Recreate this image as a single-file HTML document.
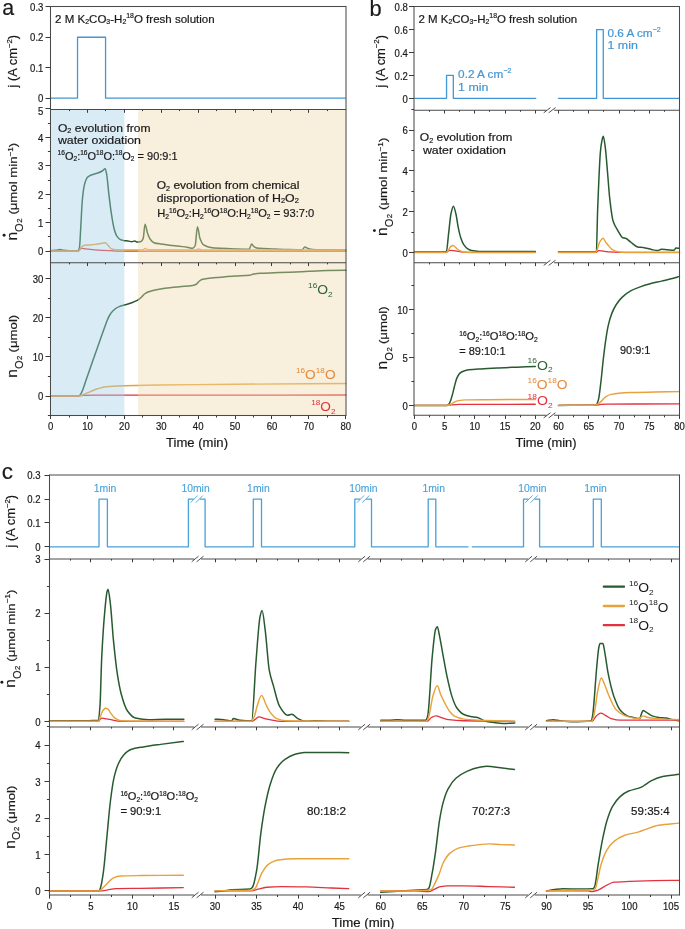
<!DOCTYPE html>
<html><head><meta charset="utf-8"><title>Figure</title>
<style>html,body{margin:0;padding:0;background:#fff;width:685px;height:929px;overflow:hidden}svg{display:block;will-change:transform}</style>
</head><body>
<svg width="685" height="929" viewBox="0 0 685 929" font-family='"Liberation Sans", sans-serif'>
<rect width="100%" height="100%" fill="#ffffff"/>
<path d="M50.6,250.63 C52.44,250.54 54.29,250.51 56.13,250.35 C57.36,250.24 58.59,249.49 59.82,249.49 C61.05,249.49 62.28,250.24 63.51,250.35 C65.36,250.51 67.2,250.63 69.05,250.63 C72,250.63 74.95,250.63 77.9,250.63 C78.39,250.63 78.88,249.73 79.37,248.36 C79.87,246.98 80.36,233.63 80.85,225.6 C81.34,217.57 81.83,205.09 82.33,200.01 C83.06,192.38 83.8,187.08 84.54,184.37 C85.52,180.75 86.51,178.24 87.49,177.26 C88.72,176.02 89.95,175.49 91.18,174.98 C92.41,174.48 93.64,174.22 94.87,173.84 C96.1,173.46 97.33,173.16 98.56,172.71 C99.79,172.25 101.02,171.72 102.25,171 C103.23,170.43 104.21,168.72 105.2,168.72 C105.69,168.72 106.18,171.83 106.67,174.41 C107.41,178.29 108.15,188.18 108.89,194.32 C109.75,201.48 110.61,208.7 111.47,214.23 C112.33,219.76 113.19,225.31 114.05,228.45 C115.03,232.04 116.02,235.03 117,236.41 C118.23,238.14 119.46,239.37 120.69,239.82 C121.92,240.28 123.15,240.53 124.38,240.68 C125.61,240.82 126.84,240.82 128.07,240.96 C129.3,241.1 130.53,241.81 131.76,241.81 C132.74,241.81 133.73,240.96 134.71,240.96 C135.57,240.96 136.43,242.1 137.29,242.1 C138.52,242.1 139.75,241.9 140.98,241.53 C141.72,241.31 142.46,240.2 143.19,238.4 C143.81,236.9 144.42,224.18 145.04,224.18 C145.9,224.18 146.76,231.21 147.62,233.57 C148.48,235.93 149.34,238.11 150.2,239.26 C151.43,240.9 152.66,242.24 153.89,242.67 C156.35,243.51 158.81,243.71 161.27,244.09 C164.96,244.67 168.65,245.06 172.34,245.51 C174.8,245.81 177.26,246.08 179.72,246.37 C182.17,246.65 184.63,246.85 187.09,247.22 C188.94,247.5 190.78,248.36 192.63,248.36 C193.49,248.36 194.35,247.22 195.21,245.51 C195.95,244.04 196.68,226.74 197.42,226.74 C198.28,226.74 199.14,236.15 200,238.4 C201.23,241.62 202.46,244.09 203.69,244.94 C205.54,246.23 207.38,246.89 209.23,247.22 C212.92,247.87 216.61,248.14 220.29,248.36 C225.21,248.64 230.13,248.79 235.05,248.92 C239.72,249.05 244.4,249.21 249.07,249.21 C249.93,249.21 250.79,244.09 251.65,244.09 C252.51,244.09 253.37,246.51 254.23,246.93 C255.83,247.73 257.43,248.22 259.03,248.36 C263.33,248.73 267.64,248.75 271.94,248.92 C276.86,249.13 281.78,249.37 286.7,249.49 C291.86,249.62 297.03,249.78 302.19,249.78 C303.05,249.78 303.91,246.93 304.77,246.93 C305.76,246.93 306.74,248.03 307.72,248.36 C309.32,248.88 310.92,249.43 312.52,249.49 C317.44,249.7 322.36,249.69 327.28,249.78 C333.42,249.88 339.57,249.97 345.72,250.06" fill="none" stroke="#285a30" stroke-width="1.5" stroke-linejoin="round" stroke-linecap="round"/>
<path d="M50.6,251.2 C59.95,251.2 69.29,251.2 78.64,251.2 C79.5,251.2 80.36,248.36 81.22,248.36 C82.69,248.36 84.17,248.76 85.65,248.92 C88.72,249.26 91.79,249.56 94.87,249.78 C99.79,250.13 104.71,250.4 109.62,250.63 C114.54,250.86 119.46,251.2 124.38,251.2 C198.16,251.2 271.94,251.2 345.72,251.2" fill="none" stroke="#e2323f" stroke-width="1.3" stroke-linejoin="round" stroke-linecap="round"/>
<path d="M50.6,250.92 C59.95,250.92 69.29,250.92 78.64,250.92 C79.37,250.92 80.11,248.53 80.85,247.79 C81.83,246.79 82.82,245.77 83.8,245.51 C85.03,245.19 86.26,245.07 87.49,244.94 C89.95,244.68 92.41,244.63 94.87,244.37 C97.33,244.12 99.79,243.66 102.25,243.24 C103.23,243.07 104.21,242.67 105.2,242.67 C106.18,242.67 107.16,244.53 108.15,245.51 C109.26,246.61 110.36,248.5 111.47,248.92 C112.7,249.39 113.93,249.74 115.16,249.78 C118.23,249.88 121.31,249.92 124.38,249.92 C130.53,249.92 136.68,249.92 142.82,249.92 C143.56,249.92 144.3,248.36 145.04,248.36 C146.15,248.36 147.25,249.77 148.36,249.78 C164.34,249.91 180.33,249.92 196.32,249.92 C197.05,249.92 197.79,248.92 198.53,248.92 C199.64,248.92 200.74,249.92 201.85,249.92 C249.81,250.06 297.76,250.01 345.72,250.06" fill="none" stroke="#e8a23a" stroke-width="1.45" stroke-linejoin="round" stroke-linecap="round"/>
<path d="M50.6,396 C59.95,396 69.29,396 78.64,396 C79.25,396 79.87,395.16 80.48,394.43 C81.34,393.41 82.2,391.05 83.06,388.94 C84.05,386.53 85.03,383.18 86.01,380.32 C88.6,372.82 91.18,365.36 93.76,357.98 C95.97,351.65 98.19,345.39 100.4,339.16 C101.75,335.35 103.11,331.53 104.46,327.79 C105.32,325.41 106.18,322.79 107.04,320.74 C107.9,318.68 108.76,316.66 109.62,315.25 C110.61,313.63 111.59,312.4 112.58,311.33 C113.56,310.25 114.54,309.26 115.53,308.58 C116.76,307.74 117.99,307.11 119.22,306.62 C120.94,305.95 122.66,305.59 124.38,305.06 C126.84,304.29 129.3,303.61 131.76,302.7 C133.6,302.03 135.45,301.35 137.29,300.35 C138.4,299.75 139.5,298.95 140.61,298 C141.35,297.36 142.09,296.37 142.82,295.65 C143.69,294.8 144.55,293.84 145.41,293.3 C146.51,292.6 147.62,292.14 148.73,291.73 C150.45,291.08 152.17,290.56 153.89,290.16 C157.58,289.31 161.27,288.7 164.96,288.2 C169.88,287.54 174.8,287.11 179.72,286.63 C184.02,286.21 188.32,286.14 192.63,285.46 C193.86,285.26 195.09,284.9 196.32,284.28 C197.18,283.84 198.04,282.24 198.9,281.54 C199.88,280.73 200.87,279.91 201.85,279.58 C203.69,278.95 205.54,278.65 207.38,278.4 C211.69,277.82 215.99,277.59 220.29,277.22 C225.21,276.81 230.13,276.36 235.05,276.05 C239.97,275.73 244.89,275.79 249.81,275.26 C251.04,275.13 252.27,274.3 253.5,274.09 C255.95,273.67 258.41,273.46 260.87,273.3 C267.02,272.91 273.17,272.76 279.32,272.52 C286.7,272.23 294.07,272.06 301.45,271.74 C303.91,271.63 306.37,271.46 308.83,271.34 C314.98,271.05 321.13,270.73 327.28,270.56 C333.42,270.39 339.57,270.3 345.72,270.17" fill="none" stroke="#285a30" stroke-width="1.5" stroke-linejoin="round" stroke-linecap="round"/>
<path d="M50.6,396 C59.95,396 69.29,396 78.64,396 C80.36,396 82.08,395.47 83.8,395.41 C87.49,395.29 91.18,395.24 94.87,395.22 C104.71,395.16 114.54,395.15 124.38,395.14 C198.16,395.06 271.94,395.06 345.72,395.02" fill="none" stroke="#e2323f" stroke-width="1.3" stroke-linejoin="round" stroke-linecap="round"/>
<path d="M50.6,396 C59.82,396 69.05,396 78.27,396 C80.11,396 81.96,395.05 83.8,394.43 C86.26,393.6 88.72,392.27 91.18,391.3 C93.64,390.32 96.1,389.27 98.56,388.55 C101.02,387.84 103.48,387.08 105.94,386.79 C108.39,386.49 110.85,386.32 113.31,386.2 C117,386.01 120.69,385.91 124.38,385.81 C136.68,385.47 148.97,385.2 161.27,385.02 C185.86,384.66 210.46,384.45 235.05,384.24 C271.94,383.92 308.83,383.72 345.72,383.46" fill="none" stroke="#e8a23a" stroke-width="1.45" stroke-linejoin="round" stroke-linecap="round"/>
<rect x="51.1" y="110" width="73.28" height="305" fill="rgb(160,207,230)" fill-opacity="0.4"/>
<rect x="138.03" y="110" width="207.47" height="305" fill="rgb(237,215,170)" fill-opacity="0.4"/>
<path d="M51.1,98.1 L77.53,98.1 L77.53,37.24 L105.57,37.24 L105.57,98.1 L345.4,98.1" fill="none" stroke="#4496d4" stroke-width="1.3" stroke-linejoin="round" stroke-linecap="round" stroke-linejoin="miter" stroke-linecap="butt"/>
<rect x="50.5" y="6.5" width="295.5" height="409" fill="none" stroke="#4a4a4a" stroke-width="1.05"/>
<line x1="50.5" y1="109.5" x2="346" y2="109.5" stroke="#4a4a4a" stroke-width="1.05"/>
<line x1="50.5" y1="262.75" x2="346" y2="262.75" stroke="#4a4a4a" stroke-width="1.05"/>
<line x1="45.5" y1="98.5" x2="50.5" y2="98.5" stroke="#3a3a3a" stroke-width="1"/>
<text x="0" y="0" font-size="10.4" fill="#1a1a1a" stroke="#1a1a1a" stroke-width="0.2" text-anchor="end" transform="translate(43.4 102.3) scale(0.92 1)"><tspan>0</tspan></text>
<line x1="45.5" y1="67.5" x2="50.5" y2="67.5" stroke="#3a3a3a" stroke-width="1"/>
<text x="0" y="0" font-size="10.4" fill="#1a1a1a" stroke="#1a1a1a" stroke-width="0.2" text-anchor="end" transform="translate(43.4 71.87) scale(0.92 1)"><tspan>0.1</tspan></text>
<line x1="45.5" y1="37.5" x2="50.5" y2="37.5" stroke="#3a3a3a" stroke-width="1"/>
<text x="0" y="0" font-size="10.4" fill="#1a1a1a" stroke="#1a1a1a" stroke-width="0.2" text-anchor="end" transform="translate(43.4 41.44) scale(0.92 1)"><tspan>0.2</tspan></text>
<line x1="45.5" y1="6.5" x2="50.5" y2="6.5" stroke="#3a3a3a" stroke-width="1"/>
<text x="0" y="0" font-size="10.4" fill="#1a1a1a" stroke="#1a1a1a" stroke-width="0.2" text-anchor="end" transform="translate(43.4 11.01) scale(0.92 1)"><tspan>0.3</tspan></text>
<line x1="45.5" y1="251.5" x2="50.5" y2="251.5" stroke="#3a3a3a" stroke-width="1"/>
<text x="0" y="0" font-size="10.4" fill="#1a1a1a" stroke="#1a1a1a" stroke-width="0.2" text-anchor="end" transform="translate(43.4 255.4) scale(0.92 1)"><tspan>0</tspan></text>
<line x1="47.9" y1="236.5" x2="50.5" y2="236.5" stroke="#3a3a3a" stroke-width="1"/>
<line x1="45.5" y1="222.5" x2="50.5" y2="222.5" stroke="#3a3a3a" stroke-width="1"/>
<text x="0" y="0" font-size="10.4" fill="#1a1a1a" stroke="#1a1a1a" stroke-width="0.2" text-anchor="end" transform="translate(43.4 226.96) scale(0.92 1)"><tspan>1</tspan></text>
<line x1="47.9" y1="208.5" x2="50.5" y2="208.5" stroke="#3a3a3a" stroke-width="1"/>
<line x1="45.5" y1="194.5" x2="50.5" y2="194.5" stroke="#3a3a3a" stroke-width="1"/>
<text x="0" y="0" font-size="10.4" fill="#1a1a1a" stroke="#1a1a1a" stroke-width="0.2" text-anchor="end" transform="translate(43.4 198.52) scale(0.92 1)"><tspan>2</tspan></text>
<line x1="47.9" y1="180.5" x2="50.5" y2="180.5" stroke="#3a3a3a" stroke-width="1"/>
<line x1="45.5" y1="165.5" x2="50.5" y2="165.5" stroke="#3a3a3a" stroke-width="1"/>
<text x="0" y="0" font-size="10.4" fill="#1a1a1a" stroke="#1a1a1a" stroke-width="0.2" text-anchor="end" transform="translate(43.4 170.08) scale(0.92 1)"><tspan>3</tspan></text>
<line x1="47.9" y1="151.5" x2="50.5" y2="151.5" stroke="#3a3a3a" stroke-width="1"/>
<line x1="45.5" y1="137.5" x2="50.5" y2="137.5" stroke="#3a3a3a" stroke-width="1"/>
<text x="0" y="0" font-size="10.4" fill="#1a1a1a" stroke="#1a1a1a" stroke-width="0.2" text-anchor="end" transform="translate(43.4 141.64) scale(0.92 1)"><tspan>4</tspan></text>
<line x1="47.9" y1="123.5" x2="50.5" y2="123.5" stroke="#3a3a3a" stroke-width="1"/>
<line x1="45.5" y1="108.5" x2="50.5" y2="108.5" stroke="#3a3a3a" stroke-width="1"/>
<text x="0" y="0" font-size="10.4" fill="#1a1a1a" stroke="#1a1a1a" stroke-width="0.2" text-anchor="end" transform="translate(43.4 114.5) scale(0.92 1)"><tspan>5</tspan></text>
<line x1="47.9" y1="415.5" x2="50.5" y2="415.5" stroke="#3a3a3a" stroke-width="1"/>
<line x1="45.5" y1="396.5" x2="50.5" y2="396.5" stroke="#3a3a3a" stroke-width="1"/>
<text x="0" y="0" font-size="10.4" fill="#1a1a1a" stroke="#1a1a1a" stroke-width="0.2" text-anchor="end" transform="translate(43.4 400.2) scale(0.92 1)"><tspan>0</tspan></text>
<line x1="47.9" y1="376.5" x2="50.5" y2="376.5" stroke="#3a3a3a" stroke-width="1"/>
<line x1="45.5" y1="356.5" x2="50.5" y2="356.5" stroke="#3a3a3a" stroke-width="1"/>
<text x="0" y="0" font-size="10.4" fill="#1a1a1a" stroke="#1a1a1a" stroke-width="0.2" text-anchor="end" transform="translate(43.4 361) scale(0.92 1)"><tspan>10</tspan></text>
<line x1="47.9" y1="337.5" x2="50.5" y2="337.5" stroke="#3a3a3a" stroke-width="1"/>
<line x1="45.5" y1="317.5" x2="50.5" y2="317.5" stroke="#3a3a3a" stroke-width="1"/>
<text x="0" y="0" font-size="10.4" fill="#1a1a1a" stroke="#1a1a1a" stroke-width="0.2" text-anchor="end" transform="translate(43.4 321.8) scale(0.92 1)"><tspan>20</tspan></text>
<line x1="47.9" y1="298.5" x2="50.5" y2="298.5" stroke="#3a3a3a" stroke-width="1"/>
<line x1="45.5" y1="278.5" x2="50.5" y2="278.5" stroke="#3a3a3a" stroke-width="1"/>
<text x="0" y="0" font-size="10.4" fill="#1a1a1a" stroke="#1a1a1a" stroke-width="0.2" text-anchor="end" transform="translate(43.4 282.6) scale(0.92 1)"><tspan>30</tspan></text>
<line x1="69.5" y1="109.5" x2="69.5" y2="111.1" stroke="#3a3a3a" stroke-width="1"/>
<line x1="69.5" y1="262.75" x2="69.5" y2="264.35" stroke="#3a3a3a" stroke-width="1"/>
<line x1="87.5" y1="109.5" x2="87.5" y2="112.8" stroke="#3a3a3a" stroke-width="1"/>
<line x1="87.5" y1="262.75" x2="87.5" y2="266.05" stroke="#3a3a3a" stroke-width="1"/>
<line x1="105.5" y1="109.5" x2="105.5" y2="111.1" stroke="#3a3a3a" stroke-width="1"/>
<line x1="105.5" y1="262.75" x2="105.5" y2="264.35" stroke="#3a3a3a" stroke-width="1"/>
<line x1="124.5" y1="109.5" x2="124.5" y2="112.8" stroke="#3a3a3a" stroke-width="1"/>
<line x1="124.5" y1="262.75" x2="124.5" y2="266.05" stroke="#3a3a3a" stroke-width="1"/>
<line x1="142.5" y1="109.5" x2="142.5" y2="111.1" stroke="#3a3a3a" stroke-width="1"/>
<line x1="142.5" y1="262.75" x2="142.5" y2="264.35" stroke="#3a3a3a" stroke-width="1"/>
<line x1="161.5" y1="109.5" x2="161.5" y2="112.8" stroke="#3a3a3a" stroke-width="1"/>
<line x1="161.5" y1="262.75" x2="161.5" y2="266.05" stroke="#3a3a3a" stroke-width="1"/>
<line x1="179.5" y1="109.5" x2="179.5" y2="111.1" stroke="#3a3a3a" stroke-width="1"/>
<line x1="179.5" y1="262.75" x2="179.5" y2="264.35" stroke="#3a3a3a" stroke-width="1"/>
<line x1="198.5" y1="109.5" x2="198.5" y2="112.8" stroke="#3a3a3a" stroke-width="1"/>
<line x1="198.5" y1="262.75" x2="198.5" y2="266.05" stroke="#3a3a3a" stroke-width="1"/>
<line x1="216.5" y1="109.5" x2="216.5" y2="111.1" stroke="#3a3a3a" stroke-width="1"/>
<line x1="216.5" y1="262.75" x2="216.5" y2="264.35" stroke="#3a3a3a" stroke-width="1"/>
<line x1="235.5" y1="109.5" x2="235.5" y2="112.8" stroke="#3a3a3a" stroke-width="1"/>
<line x1="235.5" y1="262.75" x2="235.5" y2="266.05" stroke="#3a3a3a" stroke-width="1"/>
<line x1="253.5" y1="109.5" x2="253.5" y2="111.1" stroke="#3a3a3a" stroke-width="1"/>
<line x1="253.5" y1="262.75" x2="253.5" y2="264.35" stroke="#3a3a3a" stroke-width="1"/>
<line x1="271.5" y1="109.5" x2="271.5" y2="112.8" stroke="#3a3a3a" stroke-width="1"/>
<line x1="271.5" y1="262.75" x2="271.5" y2="266.05" stroke="#3a3a3a" stroke-width="1"/>
<line x1="290.5" y1="109.5" x2="290.5" y2="111.1" stroke="#3a3a3a" stroke-width="1"/>
<line x1="290.5" y1="262.75" x2="290.5" y2="264.35" stroke="#3a3a3a" stroke-width="1"/>
<line x1="308.5" y1="109.5" x2="308.5" y2="112.8" stroke="#3a3a3a" stroke-width="1"/>
<line x1="308.5" y1="262.75" x2="308.5" y2="266.05" stroke="#3a3a3a" stroke-width="1"/>
<line x1="327.5" y1="109.5" x2="327.5" y2="111.1" stroke="#3a3a3a" stroke-width="1"/>
<line x1="327.5" y1="262.75" x2="327.5" y2="264.35" stroke="#3a3a3a" stroke-width="1"/>
<line x1="50.5" y1="415.5" x2="50.5" y2="419.1" stroke="#3a3a3a" stroke-width="1"/>
<text x="0" y="0" font-size="10.4" fill="#1a1a1a" stroke="#1a1a1a" stroke-width="0.2" text-anchor="middle" transform="translate(50.6 429.6) scale(0.92 1)"><tspan>0</tspan></text>
<line x1="69.5" y1="415.5" x2="69.5" y2="417.5" stroke="#3a3a3a" stroke-width="1"/>
<line x1="87.5" y1="415.5" x2="87.5" y2="419.1" stroke="#3a3a3a" stroke-width="1"/>
<text x="0" y="0" font-size="10.4" fill="#1a1a1a" stroke="#1a1a1a" stroke-width="0.2" text-anchor="middle" transform="translate(87.49 429.6) scale(0.92 1)"><tspan>10</tspan></text>
<line x1="105.5" y1="415.5" x2="105.5" y2="417.5" stroke="#3a3a3a" stroke-width="1"/>
<line x1="124.5" y1="415.5" x2="124.5" y2="419.1" stroke="#3a3a3a" stroke-width="1"/>
<text x="0" y="0" font-size="10.4" fill="#1a1a1a" stroke="#1a1a1a" stroke-width="0.2" text-anchor="middle" transform="translate(124.38 429.6) scale(0.92 1)"><tspan>20</tspan></text>
<line x1="142.5" y1="415.5" x2="142.5" y2="417.5" stroke="#3a3a3a" stroke-width="1"/>
<line x1="161.5" y1="415.5" x2="161.5" y2="419.1" stroke="#3a3a3a" stroke-width="1"/>
<text x="0" y="0" font-size="10.4" fill="#1a1a1a" stroke="#1a1a1a" stroke-width="0.2" text-anchor="middle" transform="translate(161.27 429.6) scale(0.92 1)"><tspan>30</tspan></text>
<line x1="179.5" y1="415.5" x2="179.5" y2="417.5" stroke="#3a3a3a" stroke-width="1"/>
<line x1="198.5" y1="415.5" x2="198.5" y2="419.1" stroke="#3a3a3a" stroke-width="1"/>
<text x="0" y="0" font-size="10.4" fill="#1a1a1a" stroke="#1a1a1a" stroke-width="0.2" text-anchor="middle" transform="translate(198.16 429.6) scale(0.92 1)"><tspan>40</tspan></text>
<line x1="216.5" y1="415.5" x2="216.5" y2="417.5" stroke="#3a3a3a" stroke-width="1"/>
<line x1="235.5" y1="415.5" x2="235.5" y2="419.1" stroke="#3a3a3a" stroke-width="1"/>
<text x="0" y="0" font-size="10.4" fill="#1a1a1a" stroke="#1a1a1a" stroke-width="0.2" text-anchor="middle" transform="translate(235.05 429.6) scale(0.92 1)"><tspan>50</tspan></text>
<line x1="253.5" y1="415.5" x2="253.5" y2="417.5" stroke="#3a3a3a" stroke-width="1"/>
<line x1="271.5" y1="415.5" x2="271.5" y2="419.1" stroke="#3a3a3a" stroke-width="1"/>
<text x="0" y="0" font-size="10.4" fill="#1a1a1a" stroke="#1a1a1a" stroke-width="0.2" text-anchor="middle" transform="translate(271.94 429.6) scale(0.92 1)"><tspan>60</tspan></text>
<line x1="290.5" y1="415.5" x2="290.5" y2="417.5" stroke="#3a3a3a" stroke-width="1"/>
<line x1="308.5" y1="415.5" x2="308.5" y2="419.1" stroke="#3a3a3a" stroke-width="1"/>
<text x="0" y="0" font-size="10.4" fill="#1a1a1a" stroke="#1a1a1a" stroke-width="0.2" text-anchor="middle" transform="translate(308.83 429.6) scale(0.92 1)"><tspan>70</tspan></text>
<line x1="327.5" y1="415.5" x2="327.5" y2="417.5" stroke="#3a3a3a" stroke-width="1"/>
<line x1="345.5" y1="415.5" x2="345.5" y2="419.1" stroke="#3a3a3a" stroke-width="1"/>
<text x="0" y="0" font-size="10.4" fill="#1a1a1a" stroke="#1a1a1a" stroke-width="0.2" text-anchor="middle" transform="translate(345.72 429.6) scale(0.92 1)"><tspan>80</tspan></text>
<text x="197" y="447.4" font-size="12.4" fill="#1a1a1a" stroke="#1a1a1a" stroke-width="0.2" text-anchor="middle" textLength="62" lengthAdjust="spacingAndGlyphs"><tspan>Time (min)</tspan></text>
<text x="0" y="0" font-size="22.5" fill="#1a1a1a" stroke="#1a1a1a" stroke-width="0.2" transform="translate(2.2 15) scale(0.95 1)"><tspan>a</tspan></text>
<text x="0" y="0" font-size="12.8" fill="#1a1a1a" stroke="#1a1a1a" stroke-width="0.2" text-anchor="middle" transform="translate(16.9 61.2) rotate(-90)" textLength="52.5" lengthAdjust="spacingAndGlyphs"><tspan>j (A cm</tspan><tspan dy="-5.12" font-size="7.68">−2</tspan><tspan dy="5.12">)</tspan></text>
<text x="55.13" y="22.9" font-size="11.2" fill="#1a1a1a" stroke="#1a1a1a" stroke-width="0.2" textLength="159.52" lengthAdjust="spacingAndGlyphs"><tspan>2 M K</tspan><tspan dy="1.57" font-size="6.72">2</tspan><tspan dy="-1.57">CO</tspan><tspan dy="1.57" font-size="6.72">3</tspan><tspan dy="-1.57">-H</tspan><tspan dy="1.57" font-size="6.72">2</tspan><tspan dy="-6.05" font-size="6.72">18</tspan><tspan dy="4.48">O fresh solution</tspan></text>
<text x="57.91" y="131.8" font-size="11.5" fill="#1a1a1a" stroke="#1a1a1a" stroke-width="0.2" textLength="92.65" lengthAdjust="spacingAndGlyphs"><tspan>O</tspan><tspan dy="1.61" font-size="6.9">2</tspan><tspan dy="-1.61"> evolution from</tspan></text>
<text x="57.91" y="143.6" font-size="11.5" fill="#1a1a1a" stroke="#1a1a1a" stroke-width="0.2" textLength="83.05" lengthAdjust="spacingAndGlyphs"><tspan>water oxidation</tspan></text>
<text x="57.61" y="159.6" font-size="11.5" fill="#1a1a1a" stroke="#1a1a1a" stroke-width="0.2" textLength="119.95" lengthAdjust="spacingAndGlyphs"><tspan dy="-4.6" font-size="6.9">16</tspan><tspan dy="4.6">O</tspan><tspan dy="1.61" font-size="6.9">2</tspan><tspan dy="-1.61">:</tspan><tspan dy="-4.6" font-size="6.9">16</tspan><tspan dy="4.6">O</tspan><tspan dy="-4.6" font-size="6.9">18</tspan><tspan dy="4.6">O:</tspan><tspan dy="-4.6" font-size="6.9">18</tspan><tspan dy="4.6">O</tspan><tspan dy="1.61" font-size="6.9">2</tspan><tspan dy="-1.61"> = 90:9:1</tspan></text>
<text x="156.71" y="189.1" font-size="11.5" fill="#1a1a1a" stroke="#1a1a1a" stroke-width="0.2" textLength="142.65" lengthAdjust="spacingAndGlyphs"><tspan>O</tspan><tspan dy="1.61" font-size="6.9">2</tspan><tspan dy="-1.61"> evolution from chemical</tspan></text>
<text x="156.71" y="201.6" font-size="11.5" fill="#1a1a1a" stroke="#1a1a1a" stroke-width="0.2" textLength="142.15" lengthAdjust="spacingAndGlyphs"><tspan>disproportionation of H</tspan><tspan dy="1.61" font-size="6.9">2</tspan><tspan dy="-1.61">O</tspan><tspan dy="1.61" font-size="6.9">2</tspan></text>
<text x="157.21" y="217.2" font-size="11.5" fill="#1a1a1a" stroke="#1a1a1a" stroke-width="0.2" textLength="157.05" lengthAdjust="spacingAndGlyphs"><tspan>H</tspan><tspan dy="1.61" font-size="6.9">2</tspan><tspan dy="-6.21" font-size="6.9">16</tspan><tspan dy="4.6">O</tspan><tspan dy="1.61" font-size="6.9">2</tspan><tspan dy="-1.61">:H</tspan><tspan dy="1.61" font-size="6.9">2</tspan><tspan dy="-6.21" font-size="6.9">16</tspan><tspan dy="4.6">O</tspan><tspan dy="-4.6" font-size="6.9">18</tspan><tspan dy="4.6">O:H</tspan><tspan dy="1.61" font-size="6.9">2</tspan><tspan dy="-6.21" font-size="6.9">18</tspan><tspan dy="4.6">O</tspan><tspan dy="1.61" font-size="6.9">2</tspan><tspan dy="-1.61"> = 93:7:0</tspan></text>
<text x="308.09" y="294.3" font-size="13.5" fill="#2c5f35" textLength="24.65" lengthAdjust="spacingAndGlyphs"><tspan dy="-6.48" font-size="8.1">16</tspan><tspan dy="6.48">O</tspan><tspan dy="2.3" font-size="8.1">2</tspan></text>
<text x="295.99" y="379.3" font-size="13.5" fill="#e5893a" textLength="39.55" lengthAdjust="spacingAndGlyphs"><tspan dy="-6.48" font-size="8.1">16</tspan><tspan dy="6.48">O</tspan><tspan dy="-6.48" font-size="8.1">18</tspan><tspan dy="6.48">O</tspan></text>
<text x="311.29" y="411.4" font-size="13.5" fill="#e0303e" textLength="24.25" lengthAdjust="spacingAndGlyphs"><tspan dy="-6.48" font-size="8.1">18</tspan><tspan dy="6.48">O</tspan><tspan dy="2.3" font-size="8.1">2</tspan></text>
<g transform="translate(17 239.8) rotate(-90)" fill="#1a1a1a">
<text x="-0.8" y="0" font-size="15" textLength="8.6" lengthAdjust="spacingAndGlyphs" stroke="#1a1a1a" stroke-width="0.2">n</text>
<circle cx="4.6" cy="-12.9" r="1.45" fill="#1a1a1a"/>
<text x="7.9" y="5.7" font-size="11.6" textLength="8.6" lengthAdjust="spacingAndGlyphs" stroke="#1a1a1a" stroke-width="0.2">O</text>
<text x="17.0" y="4.8" font-size="7.8" stroke="#1a1a1a" stroke-width="0.2">2</text>
<text x="25.2" y="0" font-size="11.8" textLength="71.8" lengthAdjust="spacingAndGlyphs" stroke="#1a1a1a" stroke-width="0.2"><tspan>(μmol min</tspan><tspan dy="-4.48" font-size="7.32">−1</tspan><tspan dy="4.48">)</tspan></text>
</g>
<g transform="translate(17 376.9) rotate(-90)" fill="#1a1a1a">
<text x="-0.8" y="0" font-size="15" textLength="8.6" lengthAdjust="spacingAndGlyphs" stroke="#1a1a1a" stroke-width="0.2">n</text>
<text x="7.9" y="5.7" font-size="11.6" textLength="8.6" lengthAdjust="spacingAndGlyphs" stroke="#1a1a1a" stroke-width="0.2">O</text>
<text x="17.0" y="4.8" font-size="7.8" stroke="#1a1a1a" stroke-width="0.2">2</text>
<text x="24.5" y="0" font-size="11.8" textLength="37.6" lengthAdjust="spacingAndGlyphs" stroke="#1a1a1a" stroke-width="0.2"><tspan>(μmol)</tspan></text>
</g>
<path d="M414.3,251.99 C424.38,251.99 434.47,251.99 444.55,251.99 C445.16,251.99 445.76,251.76 446.37,251.38 C447.17,250.88 447.98,238.4 448.79,231.8 C449.49,226.02 450.2,217.55 450.9,214.25 C451.73,210.38 452.56,206.3 453.38,206.3 C454.25,206.3 455.12,210.75 455.98,214.25 C456.73,217.27 457.48,223.71 458.22,227.31 C459.09,231.49 459.96,235.38 460.82,237.92 C461.85,240.92 462.88,243.37 463.91,244.85 C465.08,246.54 466.25,247.76 467.42,248.52 C468.87,249.48 470.32,250.28 471.78,250.56 C474.11,251.02 476.45,251.33 478.79,251.38 C485.53,251.52 492.26,251.58 499,251.58 C511.1,251.58 523.2,251.58 535.3,251.58" fill="none" stroke="#285a30" stroke-width="1.5" stroke-linejoin="round" stroke-linecap="round"/>
<path d="M414.3,252.4 C424.99,252.4 435.68,252.4 446.37,252.4 C447.17,252.4 447.98,250.69 448.79,250.56 C449.59,250.44 450.4,250.36 451.2,250.36 C453.42,250.36 455.64,251.08 457.86,251.38 C460.08,251.68 462.3,252.09 464.51,252.2 C466.94,252.31 469.36,252.4 471.78,252.4 C492.95,252.4 514.12,252.4 535.3,252.4" fill="none" stroke="#e2323f" stroke-width="1.3" stroke-linejoin="round" stroke-linecap="round"/>
<path d="M414.3,252.4 C424.79,252.4 435.27,252.4 445.76,252.4 C446.37,252.4 446.97,251.86 447.57,251.38 C448.58,250.58 449.59,247.41 450.6,246.69 C451.47,246.07 452.33,245.46 453.2,245.46 C454.15,245.46 455.1,247.16 456.05,247.91 C457.46,249.03 458.87,250.39 460.28,250.97 C461.69,251.55 463.1,252.14 464.51,252.2 C467.94,252.34 471.37,252.4 474.8,252.4 C494.97,252.4 515.13,252.4 535.3,252.4" fill="none" stroke="#e8a23a" stroke-width="1.45" stroke-linejoin="round" stroke-linecap="round"/>
<path d="M558.5,251.99 C570.6,251.99 582.7,251.99 594.8,251.99 C595.3,251.99 595.81,251.79 596.31,251.38 C596.78,251 597.24,220.07 597.7,208.34 C598.63,184.87 599.56,160.15 600.49,151.01 C601.01,145.85 601.54,142.46 602.06,140.2 C602.46,138.46 602.87,136.32 603.27,136.32 C603.98,136.32 604.68,143.04 605.39,148.36 C606.09,153.68 606.8,163.87 607.5,172.02 C608.21,180.17 608.92,191.03 609.62,197.32 C610.77,207.56 611.92,217.31 613.07,220.98 C614.7,226.21 616.34,228.07 617.97,230.78 C619.61,233.48 621.24,237.13 622.87,237.71 C623.8,238.04 624.73,238.02 625.65,238.32 C627.31,238.86 628.96,240.8 630.62,242 C632.94,243.67 635.25,246.47 637.57,246.89 C639.45,247.24 641.32,247.23 643.2,247.5 C646,247.91 648.81,249 651.61,249.54 C653.71,249.95 655.8,250.56 657.9,250.56 C659.05,250.56 660.2,249.14 661.35,249.14 C663.37,249.14 665.38,249.55 667.4,249.75 C669.6,249.96 671.8,250.36 673.99,250.36 C674.66,250.36 675.33,248.12 675.99,248.12 C676.92,248.12 677.85,248.25 678.77,248.32" fill="none" stroke="#285a30" stroke-width="1.5" stroke-linejoin="round" stroke-linecap="round"/>
<path d="M558.5,252.4 C571,252.4 583.51,252.4 596.01,252.4 C596.82,252.4 597.62,250.56 598.43,250.56 C599.64,250.56 600.85,250.82 602.06,250.97 C604.08,251.22 606.09,251.61 608.11,251.79 C611.34,252.07 614.56,252.4 617.79,252.4 C638.36,252.4 658.93,252.4 679.5,252.4" fill="none" stroke="#e2323f" stroke-width="1.3" stroke-linejoin="round" stroke-linecap="round"/>
<path d="M558.5,252.4 C570.8,252.4 583.1,252.4 595.4,252.4 C595.81,252.4 596.21,251.61 596.62,250.97 C597.62,249.38 598.63,243.85 599.64,242.2 C600.79,240.32 601.94,238.32 603.09,238.32 C603.96,238.32 604.82,241.03 605.69,242.2 C606.29,243.01 606.9,243.75 607.5,244.44 C609.12,246.3 610.73,248.6 612.35,249.54 C614.22,250.64 616.1,251.51 617.97,251.79 C620.33,252.13 622.69,252.4 625.05,252.4 C643.2,252.4 661.35,252.4 679.5,252.4" fill="none" stroke="#e8a23a" stroke-width="1.45" stroke-linejoin="round" stroke-linecap="round"/>
<path d="M414.3,405.4 C425.19,405.4 436.08,405.4 446.97,405.4 C447.78,405.4 448.58,404.48 449.39,403.49 C450.2,402.5 451,399.42 451.81,396.8 C452.62,394.17 453.42,390.25 454.23,387.24 C455.04,384.22 455.84,380.54 456.65,378.63 C457.66,376.25 458.67,374.26 459.68,373.37 C461.09,372.14 462.5,371.46 463.91,370.98 C465.52,370.44 467.14,370.04 468.75,369.84 C472.78,369.32 476.82,369.14 480.85,368.88 C486.9,368.49 492.95,368.21 499,367.92 C505.05,367.64 511.1,367.41 517.15,367.16 C523.2,366.91 529.25,366.65 535.3,366.4" fill="none" stroke="#285a30" stroke-width="1.5" stroke-linejoin="round" stroke-linecap="round"/>
<path d="M414.3,405.4 C425.19,405.4 436.08,405.4 446.97,405.4 C448.58,405.4 450.2,404.94 451.81,404.83 C454.43,404.64 457.05,404.46 459.68,404.44 C484.88,404.28 510.09,404.32 535.3,404.25" fill="none" stroke="#e2323f" stroke-width="1.3" stroke-linejoin="round" stroke-linecap="round"/>
<path d="M414.3,405.4 C425.19,405.4 436.08,405.4 446.97,405.4 C448.18,405.4 449.39,404.9 450.6,404.44 C451.81,403.99 453.02,402.6 454.23,402.05 C455.64,401.42 457.05,400.86 458.47,400.62 C460.89,400.21 463.31,399.9 465.73,399.86 C472.78,399.72 479.84,399.7 486.9,399.66 C503.03,399.57 519.17,399.54 535.3,399.47" fill="none" stroke="#e8a23a" stroke-width="1.45" stroke-linejoin="round" stroke-linecap="round"/>
<path d="M558.5,405.4 C571,405.24 583.51,405.37 596.01,404.92 C596.82,404.89 597.62,402.35 598.43,399.66 C599.24,396.98 600.04,389.01 600.85,382.46 C601.66,375.9 602.46,366.46 603.27,359.51 C604.08,352.56 604.88,345.85 605.69,340.39 C606.5,334.93 607.3,329.62 608.11,326.05 C609.32,320.71 610.53,316.73 611.74,313.62 C613.15,310 614.56,307.25 615.98,305.02 C617.99,301.83 620.01,299.28 622.02,297.37 C625.05,294.5 628.08,292.3 631.1,290.68 C634.12,289.06 637.15,287.95 640.17,286.86 C643.2,285.76 646.23,284.81 649.25,283.99 C653.28,282.89 657.32,282.08 661.35,281.12 C665.38,280.16 669.42,279.36 673.45,278.25 C675.47,277.7 677.48,276.98 679.5,276.34" fill="none" stroke="#285a30" stroke-width="1.5" stroke-linejoin="round" stroke-linecap="round"/>
<path d="M558.5,405.4 C571,405.34 583.51,405.37 596.01,405.21 C597.62,405.19 599.24,404.59 600.85,404.44 C602.87,404.26 604.88,404.07 606.9,404.06 C631.1,403.98 655.3,404 679.5,403.97" fill="none" stroke="#e2323f" stroke-width="1.3" stroke-linejoin="round" stroke-linecap="round"/>
<path d="M558.5,405.4 C571,405.24 583.51,405.34 596.01,404.92 C597.62,404.87 599.24,402.89 600.85,401.58 C602.46,400.26 604.08,397.78 605.69,396.8 C607.5,395.68 609.32,394.84 611.13,394.41 C613.76,393.78 616.38,393.36 619,393.16 C623.03,392.86 627.07,392.72 631.1,392.59 C639.17,392.32 647.23,392.17 655.3,392.02 C663.37,391.86 671.43,391.76 679.5,391.63" fill="none" stroke="#e8a23a" stroke-width="1.45" stroke-linejoin="round" stroke-linecap="round"/>
<path d="M414.6,98.3 L446.55,98.3 L446.55,75.4 L453.32,75.4 L453.32,98.3 L535.8,98.3" fill="none" stroke="#4496d4" stroke-width="1.3" stroke-linejoin="round" stroke-linecap="round" stroke-linejoin="miter" stroke-linecap="butt"/>
<path d="M558.4,98.3 L596.62,98.3 L596.62,29.6 L603.27,29.6 L603.27,98.3 L678.9,98.3" fill="none" stroke="#4496d4" stroke-width="1.3" stroke-linejoin="round" stroke-linecap="round" stroke-linejoin="miter" stroke-linecap="butt"/>
<line x1="414" y1="6.5" x2="679.5" y2="6.5" stroke="#4a4a4a" stroke-width="1.05"/>
<line x1="414" y1="5.9" x2="414" y2="415.9" stroke="#4a4a4a" stroke-width="1.05"/>
<line x1="679.5" y1="5.9" x2="679.5" y2="415.9" stroke="#4a4a4a" stroke-width="1.05"/>
<line x1="414" y1="110.2" x2="546.5" y2="110.2" stroke="#4a4a4a" stroke-width="1.05"/>
<line x1="554.1" y1="110.2" x2="679.5" y2="110.2" stroke="#4a4a4a" stroke-width="1.05"/>
<rect x="548" y="108.2" width="3.2" height="4" fill="#fff"/>
<line x1="543.7" y1="112.8" x2="550.5" y2="107.6" stroke="#3a3a3a" stroke-width="0.9"/>
<line x1="548.7" y1="112.8" x2="555.5" y2="107.6" stroke="#3a3a3a" stroke-width="0.9"/>
<line x1="414" y1="262.8" x2="546.5" y2="262.8" stroke="#4a4a4a" stroke-width="1.05"/>
<line x1="554.1" y1="262.8" x2="679.5" y2="262.8" stroke="#4a4a4a" stroke-width="1.05"/>
<rect x="548" y="260.8" width="3.2" height="4" fill="#fff"/>
<line x1="543.7" y1="265.4" x2="550.5" y2="260.2" stroke="#3a3a3a" stroke-width="0.9"/>
<line x1="548.7" y1="265.4" x2="555.5" y2="260.2" stroke="#3a3a3a" stroke-width="0.9"/>
<line x1="414" y1="415.3" x2="546.5" y2="415.3" stroke="#4a4a4a" stroke-width="1.05"/>
<line x1="554.1" y1="415.3" x2="679.5" y2="415.3" stroke="#4a4a4a" stroke-width="1.05"/>
<rect x="548" y="413.3" width="3.2" height="4" fill="#fff"/>
<line x1="543.7" y1="417.9" x2="550.5" y2="412.7" stroke="#3a3a3a" stroke-width="0.9"/>
<line x1="548.7" y1="417.9" x2="555.5" y2="412.7" stroke="#3a3a3a" stroke-width="0.9"/>
<line x1="409" y1="98.5" x2="414" y2="98.5" stroke="#3a3a3a" stroke-width="1"/>
<text x="0" y="0" font-size="10.4" fill="#1a1a1a" stroke="#1a1a1a" stroke-width="0.2" text-anchor="end" transform="translate(407.9 102.5) scale(0.92 1)"><tspan>0</tspan></text>
<line x1="409" y1="75.5" x2="414" y2="75.5" stroke="#3a3a3a" stroke-width="1"/>
<text x="0" y="0" font-size="10.4" fill="#1a1a1a" stroke="#1a1a1a" stroke-width="0.2" text-anchor="end" transform="translate(407.9 79.6) scale(0.92 1)"><tspan>0.2</tspan></text>
<line x1="409" y1="52.5" x2="414" y2="52.5" stroke="#3a3a3a" stroke-width="1"/>
<text x="0" y="0" font-size="10.4" fill="#1a1a1a" stroke="#1a1a1a" stroke-width="0.2" text-anchor="end" transform="translate(407.9 56.7) scale(0.92 1)"><tspan>0.4</tspan></text>
<line x1="409" y1="29.5" x2="414" y2="29.5" stroke="#3a3a3a" stroke-width="1"/>
<text x="0" y="0" font-size="10.4" fill="#1a1a1a" stroke="#1a1a1a" stroke-width="0.2" text-anchor="end" transform="translate(407.9 33.8) scale(0.92 1)"><tspan>0.6</tspan></text>
<line x1="409" y1="6.5" x2="414" y2="6.5" stroke="#3a3a3a" stroke-width="1"/>
<text x="0" y="0" font-size="10.4" fill="#1a1a1a" stroke="#1a1a1a" stroke-width="0.2" text-anchor="end" transform="translate(407.9 10.9) scale(0.92 1)"><tspan>0.8</tspan></text>
<line x1="409" y1="252.5" x2="414" y2="252.5" stroke="#3a3a3a" stroke-width="1"/>
<text x="0" y="0" font-size="10.4" fill="#1a1a1a" stroke="#1a1a1a" stroke-width="0.2" text-anchor="end" transform="translate(407.9 256.6) scale(0.92 1)"><tspan>0</tspan></text>
<line x1="411.4" y1="232.5" x2="414" y2="232.5" stroke="#3a3a3a" stroke-width="1"/>
<line x1="409" y1="211.5" x2="414" y2="211.5" stroke="#3a3a3a" stroke-width="1"/>
<text x="0" y="0" font-size="10.4" fill="#1a1a1a" stroke="#1a1a1a" stroke-width="0.2" text-anchor="end" transform="translate(407.9 215.8) scale(0.92 1)"><tspan>2</tspan></text>
<line x1="411.4" y1="191.5" x2="414" y2="191.5" stroke="#3a3a3a" stroke-width="1"/>
<line x1="409" y1="170.5" x2="414" y2="170.5" stroke="#3a3a3a" stroke-width="1"/>
<text x="0" y="0" font-size="10.4" fill="#1a1a1a" stroke="#1a1a1a" stroke-width="0.2" text-anchor="end" transform="translate(407.9 175) scale(0.92 1)"><tspan>4</tspan></text>
<line x1="411.4" y1="150.5" x2="414" y2="150.5" stroke="#3a3a3a" stroke-width="1"/>
<line x1="409" y1="130.5" x2="414" y2="130.5" stroke="#3a3a3a" stroke-width="1"/>
<text x="0" y="0" font-size="10.4" fill="#1a1a1a" stroke="#1a1a1a" stroke-width="0.2" text-anchor="end" transform="translate(407.9 134.2) scale(0.92 1)"><tspan>6</tspan></text>
<line x1="411.4" y1="109.5" x2="414" y2="109.5" stroke="#3a3a3a" stroke-width="1"/>
<line x1="409" y1="405.5" x2="414" y2="405.5" stroke="#3a3a3a" stroke-width="1"/>
<text x="0" y="0" font-size="10.4" fill="#1a1a1a" stroke="#1a1a1a" stroke-width="0.2" text-anchor="end" transform="translate(407.9 409.6) scale(0.92 1)"><tspan>0</tspan></text>
<line x1="411.4" y1="381.5" x2="414" y2="381.5" stroke="#3a3a3a" stroke-width="1"/>
<line x1="409" y1="357.5" x2="414" y2="357.5" stroke="#3a3a3a" stroke-width="1"/>
<text x="0" y="0" font-size="10.4" fill="#1a1a1a" stroke="#1a1a1a" stroke-width="0.2" text-anchor="end" transform="translate(407.9 361.8) scale(0.92 1)"><tspan>5</tspan></text>
<line x1="411.4" y1="333.5" x2="414" y2="333.5" stroke="#3a3a3a" stroke-width="1"/>
<line x1="409" y1="309.5" x2="414" y2="309.5" stroke="#3a3a3a" stroke-width="1"/>
<text x="0" y="0" font-size="10.4" fill="#1a1a1a" stroke="#1a1a1a" stroke-width="0.2" text-anchor="end" transform="translate(407.9 314) scale(0.92 1)"><tspan>10</tspan></text>
<line x1="411.4" y1="285.5" x2="414" y2="285.5" stroke="#3a3a3a" stroke-width="1"/>
<line x1="414.5" y1="415.3" x2="414.5" y2="418.9" stroke="#3a3a3a" stroke-width="1"/>
<text x="0" y="0" font-size="10.4" fill="#1a1a1a" stroke="#1a1a1a" stroke-width="0.2" text-anchor="middle" transform="translate(414.3 429.6) scale(0.92 1)"><tspan>0</tspan></text>
<line x1="429.5" y1="110.2" x2="429.5" y2="111.8" stroke="#3a3a3a" stroke-width="1"/>
<line x1="429.5" y1="262.8" x2="429.5" y2="264.4" stroke="#3a3a3a" stroke-width="1"/>
<line x1="429.5" y1="415.3" x2="429.5" y2="417.3" stroke="#3a3a3a" stroke-width="1"/>
<line x1="444.5" y1="110.2" x2="444.5" y2="113.5" stroke="#3a3a3a" stroke-width="1"/>
<line x1="444.5" y1="262.8" x2="444.5" y2="266.1" stroke="#3a3a3a" stroke-width="1"/>
<line x1="444.5" y1="415.3" x2="444.5" y2="418.9" stroke="#3a3a3a" stroke-width="1"/>
<text x="0" y="0" font-size="10.4" fill="#1a1a1a" stroke="#1a1a1a" stroke-width="0.2" text-anchor="middle" transform="translate(444.55 429.6) scale(0.92 1)"><tspan>5</tspan></text>
<line x1="459.5" y1="110.2" x2="459.5" y2="111.8" stroke="#3a3a3a" stroke-width="1"/>
<line x1="459.5" y1="262.8" x2="459.5" y2="264.4" stroke="#3a3a3a" stroke-width="1"/>
<line x1="459.5" y1="415.3" x2="459.5" y2="417.3" stroke="#3a3a3a" stroke-width="1"/>
<line x1="474.5" y1="110.2" x2="474.5" y2="113.5" stroke="#3a3a3a" stroke-width="1"/>
<line x1="474.5" y1="262.8" x2="474.5" y2="266.1" stroke="#3a3a3a" stroke-width="1"/>
<line x1="474.5" y1="415.3" x2="474.5" y2="418.9" stroke="#3a3a3a" stroke-width="1"/>
<text x="0" y="0" font-size="10.4" fill="#1a1a1a" stroke="#1a1a1a" stroke-width="0.2" text-anchor="middle" transform="translate(474.8 429.6) scale(0.92 1)"><tspan>10</tspan></text>
<line x1="489.5" y1="110.2" x2="489.5" y2="111.8" stroke="#3a3a3a" stroke-width="1"/>
<line x1="489.5" y1="262.8" x2="489.5" y2="264.4" stroke="#3a3a3a" stroke-width="1"/>
<line x1="489.5" y1="415.3" x2="489.5" y2="417.3" stroke="#3a3a3a" stroke-width="1"/>
<line x1="505.5" y1="110.2" x2="505.5" y2="113.5" stroke="#3a3a3a" stroke-width="1"/>
<line x1="505.5" y1="262.8" x2="505.5" y2="266.1" stroke="#3a3a3a" stroke-width="1"/>
<line x1="505.5" y1="415.3" x2="505.5" y2="418.9" stroke="#3a3a3a" stroke-width="1"/>
<text x="0" y="0" font-size="10.4" fill="#1a1a1a" stroke="#1a1a1a" stroke-width="0.2" text-anchor="middle" transform="translate(505.05 429.6) scale(0.92 1)"><tspan>15</tspan></text>
<line x1="520.5" y1="110.2" x2="520.5" y2="111.8" stroke="#3a3a3a" stroke-width="1"/>
<line x1="520.5" y1="262.8" x2="520.5" y2="264.4" stroke="#3a3a3a" stroke-width="1"/>
<line x1="520.5" y1="415.3" x2="520.5" y2="417.3" stroke="#3a3a3a" stroke-width="1"/>
<line x1="535.5" y1="110.2" x2="535.5" y2="113.5" stroke="#3a3a3a" stroke-width="1"/>
<line x1="535.5" y1="262.8" x2="535.5" y2="266.1" stroke="#3a3a3a" stroke-width="1"/>
<line x1="535.5" y1="415.3" x2="535.5" y2="418.9" stroke="#3a3a3a" stroke-width="1"/>
<text x="0" y="0" font-size="10.4" fill="#1a1a1a" stroke="#1a1a1a" stroke-width="0.2" text-anchor="middle" transform="translate(535.3 429.6) scale(0.92 1)"><tspan>20</tspan></text>
<line x1="558.5" y1="110.2" x2="558.5" y2="113.5" stroke="#3a3a3a" stroke-width="1"/>
<line x1="558.5" y1="262.8" x2="558.5" y2="266.1" stroke="#3a3a3a" stroke-width="1"/>
<line x1="558.5" y1="415.3" x2="558.5" y2="418.9" stroke="#3a3a3a" stroke-width="1"/>
<text x="0" y="0" font-size="10.4" fill="#1a1a1a" stroke="#1a1a1a" stroke-width="0.2" text-anchor="middle" transform="translate(558.5 429.6) scale(0.92 1)"><tspan>60</tspan></text>
<line x1="573.5" y1="110.2" x2="573.5" y2="111.8" stroke="#3a3a3a" stroke-width="1"/>
<line x1="573.5" y1="262.8" x2="573.5" y2="264.4" stroke="#3a3a3a" stroke-width="1"/>
<line x1="573.5" y1="415.3" x2="573.5" y2="417.3" stroke="#3a3a3a" stroke-width="1"/>
<line x1="588.5" y1="110.2" x2="588.5" y2="113.5" stroke="#3a3a3a" stroke-width="1"/>
<line x1="588.5" y1="262.8" x2="588.5" y2="266.1" stroke="#3a3a3a" stroke-width="1"/>
<line x1="588.5" y1="415.3" x2="588.5" y2="418.9" stroke="#3a3a3a" stroke-width="1"/>
<text x="0" y="0" font-size="10.4" fill="#1a1a1a" stroke="#1a1a1a" stroke-width="0.2" text-anchor="middle" transform="translate(588.75 429.6) scale(0.92 1)"><tspan>65</tspan></text>
<line x1="603.5" y1="110.2" x2="603.5" y2="111.8" stroke="#3a3a3a" stroke-width="1"/>
<line x1="603.5" y1="262.8" x2="603.5" y2="264.4" stroke="#3a3a3a" stroke-width="1"/>
<line x1="603.5" y1="415.3" x2="603.5" y2="417.3" stroke="#3a3a3a" stroke-width="1"/>
<line x1="619.5" y1="110.2" x2="619.5" y2="113.5" stroke="#3a3a3a" stroke-width="1"/>
<line x1="619.5" y1="262.8" x2="619.5" y2="266.1" stroke="#3a3a3a" stroke-width="1"/>
<line x1="619.5" y1="415.3" x2="619.5" y2="418.9" stroke="#3a3a3a" stroke-width="1"/>
<text x="0" y="0" font-size="10.4" fill="#1a1a1a" stroke="#1a1a1a" stroke-width="0.2" text-anchor="middle" transform="translate(619 429.6) scale(0.92 1)"><tspan>70</tspan></text>
<line x1="634.5" y1="110.2" x2="634.5" y2="111.8" stroke="#3a3a3a" stroke-width="1"/>
<line x1="634.5" y1="262.8" x2="634.5" y2="264.4" stroke="#3a3a3a" stroke-width="1"/>
<line x1="634.5" y1="415.3" x2="634.5" y2="417.3" stroke="#3a3a3a" stroke-width="1"/>
<line x1="649.5" y1="110.2" x2="649.5" y2="113.5" stroke="#3a3a3a" stroke-width="1"/>
<line x1="649.5" y1="262.8" x2="649.5" y2="266.1" stroke="#3a3a3a" stroke-width="1"/>
<line x1="649.5" y1="415.3" x2="649.5" y2="418.9" stroke="#3a3a3a" stroke-width="1"/>
<text x="0" y="0" font-size="10.4" fill="#1a1a1a" stroke="#1a1a1a" stroke-width="0.2" text-anchor="middle" transform="translate(649.25 429.6) scale(0.92 1)"><tspan>75</tspan></text>
<line x1="664.5" y1="110.2" x2="664.5" y2="111.8" stroke="#3a3a3a" stroke-width="1"/>
<line x1="664.5" y1="262.8" x2="664.5" y2="264.4" stroke="#3a3a3a" stroke-width="1"/>
<line x1="664.5" y1="415.3" x2="664.5" y2="417.3" stroke="#3a3a3a" stroke-width="1"/>
<line x1="679.5" y1="415.3" x2="679.5" y2="418.9" stroke="#3a3a3a" stroke-width="1"/>
<text x="0" y="0" font-size="10.4" fill="#1a1a1a" stroke="#1a1a1a" stroke-width="0.2" text-anchor="middle" transform="translate(679.5 429.6) scale(0.92 1)"><tspan>80</tspan></text>
<text x="546" y="447.2" font-size="12.4" fill="#1a1a1a" stroke="#1a1a1a" stroke-width="0.2" text-anchor="middle" textLength="61" lengthAdjust="spacingAndGlyphs"><tspan>Time (min)</tspan></text>
<text x="0" y="0" font-size="22.5" fill="#1a1a1a" stroke="#1a1a1a" stroke-width="0.2" transform="translate(369.4 16) scale(0.97 1)"><tspan>b</tspan></text>
<text x="0" y="0" font-size="12.8" fill="#1a1a1a" stroke="#1a1a1a" stroke-width="0.2" text-anchor="middle" transform="translate(384.5 61.3) rotate(-90)" textLength="52.5" lengthAdjust="spacingAndGlyphs"><tspan>j (A cm</tspan><tspan dy="-5.12" font-size="7.68">−2</tspan><tspan dy="5.12">)</tspan></text>
<g transform="translate(387.3 235.2) rotate(-90)" fill="#1a1a1a">
<text x="-0.8" y="0" font-size="15" textLength="8.6" lengthAdjust="spacingAndGlyphs" stroke="#1a1a1a" stroke-width="0.2">n</text>
<circle cx="4.6" cy="-12.9" r="1.45" fill="#1a1a1a"/>
<text x="7.9" y="5.7" font-size="11.6" textLength="8.6" lengthAdjust="spacingAndGlyphs" stroke="#1a1a1a" stroke-width="0.2">O</text>
<text x="17.0" y="4.8" font-size="7.8" stroke="#1a1a1a" stroke-width="0.2">2</text>
<text x="25.2" y="0" font-size="11.8" textLength="72.4" lengthAdjust="spacingAndGlyphs" stroke="#1a1a1a" stroke-width="0.2"><tspan>(μmol min</tspan><tspan dy="-4.48" font-size="7.32">−1</tspan><tspan dy="4.48">)</tspan></text>
</g>
<g transform="translate(387.3 368.6) rotate(-90)" fill="#1a1a1a">
<text x="-0.8" y="0" font-size="15" textLength="8.6" lengthAdjust="spacingAndGlyphs" stroke="#1a1a1a" stroke-width="0.2">n</text>
<text x="7.9" y="5.7" font-size="11.6" textLength="8.6" lengthAdjust="spacingAndGlyphs" stroke="#1a1a1a" stroke-width="0.2">O</text>
<text x="17.0" y="4.8" font-size="7.8" stroke="#1a1a1a" stroke-width="0.2">2</text>
<text x="24.5" y="0" font-size="11.8" textLength="37.7" lengthAdjust="spacingAndGlyphs" stroke="#1a1a1a" stroke-width="0.2"><tspan>(μmol)</tspan></text>
</g>
<text x="418.53" y="22.6" font-size="11.2" fill="#1a1a1a" stroke="#1a1a1a" stroke-width="0.2" textLength="158.72" lengthAdjust="spacingAndGlyphs"><tspan>2 M K</tspan><tspan dy="1.57" font-size="6.72">2</tspan><tspan dy="-1.57">CO</tspan><tspan dy="1.57" font-size="6.72">3</tspan><tspan dy="-1.57">-H</tspan><tspan dy="1.57" font-size="6.72">2</tspan><tspan dy="-6.05" font-size="6.72">18</tspan><tspan dy="4.48">O fresh solution</tspan></text>
<text x="458.11" y="78" font-size="11.5" fill="#4496d4" stroke="#4496d4" stroke-width="0.2" textLength="53.25" lengthAdjust="spacingAndGlyphs"><tspan>0.2 A cm</tspan><tspan dy="-4.6" font-size="6.9">−2</tspan></text>
<text x="458.11" y="90.7" font-size="11.5" fill="#4496d4" stroke="#4496d4" stroke-width="0.2" textLength="30.35" lengthAdjust="spacingAndGlyphs"><tspan>1 min</tspan></text>
<text x="607.51" y="37" font-size="11.5" fill="#4496d4" stroke="#4496d4" stroke-width="0.2" textLength="53.15" lengthAdjust="spacingAndGlyphs"><tspan>0.6 A cm</tspan><tspan dy="-4.6" font-size="6.9">−2</tspan></text>
<text x="607.51" y="49.3" font-size="11.5" fill="#4496d4" stroke="#4496d4" stroke-width="0.2" textLength="30.35" lengthAdjust="spacingAndGlyphs"><tspan>1 min</tspan></text>
<text x="419.81" y="141.2" font-size="11.5" fill="#1a1a1a" stroke="#1a1a1a" stroke-width="0.2" textLength="92.65" lengthAdjust="spacingAndGlyphs"><tspan>O</tspan><tspan dy="1.61" font-size="6.9">2</tspan><tspan dy="-1.61"> evolution from</tspan></text>
<text x="422.91" y="153.6" font-size="11.5" fill="#1a1a1a" stroke="#1a1a1a" stroke-width="0.2" textLength="83.05" lengthAdjust="spacingAndGlyphs"><tspan>water oxidation</tspan></text>
<text x="459.21" y="340.3" font-size="11.5" fill="#1a1a1a" stroke="#1a1a1a" stroke-width="0.2" textLength="78.45" lengthAdjust="spacingAndGlyphs"><tspan dy="-4.6" font-size="6.9">16</tspan><tspan dy="4.6">O</tspan><tspan dy="1.61" font-size="6.9">2</tspan><tspan dy="-1.61">:</tspan><tspan dy="-4.6" font-size="6.9">16</tspan><tspan dy="4.6">O</tspan><tspan dy="-4.6" font-size="6.9">18</tspan><tspan dy="4.6">O:</tspan><tspan dy="-4.6" font-size="6.9">18</tspan><tspan dy="4.6">O</tspan><tspan dy="1.61" font-size="6.9">2</tspan></text>
<text x="459.21" y="354.9" font-size="11.5" fill="#1a1a1a" stroke="#1a1a1a" stroke-width="0.2" textLength="46.35" lengthAdjust="spacingAndGlyphs"><tspan>= 89:10:1</tspan></text>
<text x="620.01" y="354.2" font-size="11.5" fill="#1a1a1a" stroke="#1a1a1a" stroke-width="0.2" textLength="30.45" lengthAdjust="spacingAndGlyphs"><tspan>90:9:1</tspan></text>
<text x="527.59" y="369.5" font-size="13.5" fill="#2c5f35" textLength="25.05" lengthAdjust="spacingAndGlyphs"><tspan dy="-6.48" font-size="8.1">16</tspan><tspan dy="6.48">O</tspan><tspan dy="2.3" font-size="8.1">2</tspan></text>
<text x="527.59" y="389" font-size="13.5" fill="#e5893a" textLength="39.95" lengthAdjust="spacingAndGlyphs"><tspan dy="-6.48" font-size="8.1">16</tspan><tspan dy="6.48">O</tspan><tspan dy="-6.48" font-size="8.1">18</tspan><tspan dy="6.48">O</tspan></text>
<text x="527.59" y="405.4" font-size="13.5" fill="#e0303e" textLength="25.05" lengthAdjust="spacingAndGlyphs"><tspan dy="-6.48" font-size="8.1">18</tspan><tspan dy="6.48">O</tspan><tspan dy="2.3" font-size="8.1">2</tspan></text>
<path d="M49.4,720.76 C57.7,720.76 66,720.76 74.3,720.76 C82.32,720.76 90.35,720.72 98.37,720.22 C98.92,720.18 99.48,712.71 100.03,705.08 C100.58,697.44 101.14,669.3 101.69,658.04 C102.71,637.21 103.74,622.63 104.76,611.54 C105.54,603.14 106.31,594.19 107.09,591.53 C107.39,590.49 107.69,589.37 108,589.37 C108.77,589.37 109.55,597.32 110.32,603.43 C111.35,611.49 112.37,629.32 113.39,639.65 C114.69,652.78 115.99,665.28 117.29,673.72 C118.62,682.34 119.95,689.46 121.28,694.26 C123.35,701.78 125.43,708.17 127.5,711.03 C130.1,714.6 132.7,717.47 135.31,718.06 C139.87,719.08 144.44,719.68 149,719.68 C154.53,719.68 160.07,719.14 165.6,719.14 C171.69,719.14 177.77,719.14 183.86,719.14" fill="none" stroke="#285a30" stroke-width="1.5" stroke-linejoin="round" stroke-linecap="round"/>
<path d="M49.4,721.3 C65.72,721.3 82.05,721.3 98.37,721.3 C99.48,721.3 100.58,718.06 101.69,718.06 C102.8,718.06 103.9,718.41 105.01,718.6 C106.95,718.93 108.88,719.34 110.82,719.68 C114.14,720.26 117.46,721.3 120.78,721.3 C141.81,721.3 162.83,721.3 183.86,721.3" fill="none" stroke="#e2323f" stroke-width="1.3" stroke-linejoin="round" stroke-linecap="round"/>
<path d="M49.4,721.3 C65.72,721.3 82.05,721.3 98.37,721.3 C98.92,721.3 99.48,718.81 100.03,717.52 C101,715.25 101.97,711.66 102.94,710.49 C103.82,709.42 104.71,708.32 105.59,708.32 C106.5,708.32 107.42,708.81 108.33,709.4 C108.99,709.84 109.66,711.73 110.32,712.65 C111.87,714.8 113.42,717.06 114.97,718.06 C117.07,719.4 119.18,720.71 121.28,720.76 C142.14,721.24 163,721.12 183.86,721.3" fill="none" stroke="#e8a23a" stroke-width="1.45" stroke-linejoin="round" stroke-linecap="round"/>
<path d="M49.4,890.9 C66,890.9 82.6,890.9 99.2,890.9 C99.62,890.9 100.03,889.27 100.45,887.98 C101.41,884.98 102.38,879.03 103.35,872.31 C104.54,864.05 105.73,848.58 106.92,836.59 C108.08,824.88 109.24,810.48 110.41,801.23 C111.59,791.77 112.78,783.11 113.97,777.9 C115.44,771.49 116.91,766.92 118.37,763.69 C120.14,759.79 121.91,756.81 123.69,754.94 C126.09,752.4 128.5,750.3 130.91,749.47 C135,748.07 139.1,747.63 143.19,746.92 C149,745.91 154.81,745.17 160.62,744.37 C168.17,743.33 175.73,742.43 183.28,741.45" fill="none" stroke="#285a30" stroke-width="1.5" stroke-linejoin="round" stroke-linecap="round"/>
<path d="M49.4,890.9 C66.55,890.9 83.71,890.9 100.86,890.9 C103.18,890.9 105.51,890.15 107.83,889.81 C110.49,889.42 113.14,888.79 115.8,888.71 C124.1,888.46 132.4,888.48 140.7,888.35 C154.89,888.13 169.09,887.86 183.28,887.62" fill="none" stroke="#e2323f" stroke-width="1.3" stroke-linejoin="round" stroke-linecap="round"/>
<path d="M49.4,890.9 C66,890.9 82.6,890.9 99.2,890.9 C100.03,890.9 100.86,889.77 101.69,889.08 C103.13,887.87 104.57,886.1 106.01,884.7 C108.36,882.41 110.71,879.23 113.06,878.14 C115.44,877.04 117.82,876.05 120.2,875.96 C127.03,875.69 133.87,875.67 140.7,875.59 C154.89,875.42 169.09,875.35 183.28,875.23" fill="none" stroke="#e8a23a" stroke-width="1.45" stroke-linejoin="round" stroke-linecap="round"/>
<path d="M215.1,719.14 C217.87,719.32 220.63,719.44 223.4,719.68 C226.17,719.92 228.93,720.76 231.7,720.76 C232.25,720.76 232.81,718.6 233.36,718.6 C235.57,718.6 237.79,720.03 240,720.22 C243.87,720.54 247.75,720.76 251.62,720.76 C253.09,720.76 254.55,679.08 256.02,661.28 C257.37,644.83 258.73,622.38 260.09,616.4 C260.75,613.48 261.41,610.46 262.08,610.46 C263.13,610.46 264.18,622.43 265.23,630.46 C266.59,640.82 267.94,663.15 269.3,670.47 C270.65,677.8 272.01,680.82 273.37,685.61 C275.41,692.85 277.46,702.64 279.51,706.16 C282.25,710.87 284.99,715.35 287.73,715.35 C289.05,715.35 290.38,714.27 291.71,714.27 C293.76,714.27 295.8,717.66 297.85,718.6 C300.59,719.85 303.33,721.3 306.07,721.3 C308.95,721.3 311.82,720.76 314.7,720.76 C320.23,720.76 325.77,721.3 331.3,721.3 C337.11,721.3 342.92,721.3 348.73,721.3" fill="none" stroke="#285a30" stroke-width="1.5" stroke-linejoin="round" stroke-linecap="round"/>
<path d="M215.1,721.3 C227.27,721.3 239.45,721.3 251.62,721.3 C254.11,721.3 256.6,716.97 259.09,716.97 C260.47,716.97 261.86,717.71 263.24,718.06 C265.45,718.62 267.67,719.27 269.88,719.68 C273.75,720.38 277.63,721.3 281.5,721.3 C303.91,721.3 326.32,721.3 348.73,721.3" fill="none" stroke="#e2323f" stroke-width="1.3" stroke-linejoin="round" stroke-linecap="round"/>
<path d="M215.1,721.3 C227.27,721.3 239.45,721.3 251.62,721.3 C252.59,721.3 253.56,718.3 254.53,715.89 C255.49,713.49 256.46,707.87 257.43,705.08 C258.84,701.01 260.25,695.35 261.66,695.35 C262.47,695.35 263.27,697.95 264.07,699.67 C264.62,700.86 265.18,702.75 265.73,704 C267.06,706.98 268.39,709.78 269.71,711.57 C272.07,714.73 274.42,717.65 276.77,718.6 C279.73,719.78 282.69,720.7 285.65,720.76 C306.68,721.21 327.7,721.12 348.73,721.3" fill="none" stroke="#e8a23a" stroke-width="1.45" stroke-linejoin="round" stroke-linecap="round"/>
<path d="M215.1,891.63 C217.87,891.39 220.63,891.19 223.4,890.9 C226.17,890.61 228.93,889.99 231.7,889.81 C237.79,889.41 243.87,889.67 249.96,889.08 C250.79,889 251.62,888.23 252.45,887.25 C253.86,885.6 255.27,877.98 256.68,870.12 C258.07,862.42 259.45,843.61 260.83,833.31 C262.22,823.01 263.6,813.88 264.98,806.7 C266.64,798.08 268.3,790.51 269.96,785.19 C272.2,778.01 274.44,771.89 276.69,768.43 C279.45,764.15 282.22,761.26 284.99,759.32 C288.33,756.96 291.68,755.17 295.03,754.21 C298.07,753.35 301.12,752.39 304.16,752.39 C310.44,752.39 316.72,752.39 323,752.39 C331.58,752.39 340.15,752.63 348.73,752.75" fill="none" stroke="#285a30" stroke-width="1.5" stroke-linejoin="round" stroke-linecap="round"/>
<path d="M215.1,890.9 C227.27,890.9 239.45,890.9 251.62,890.9 C253.83,890.9 256.05,889.62 258.26,889.08 C261.03,888.4 263.79,887.49 266.56,887.25 C271.54,886.83 276.52,886.53 281.5,886.53 C289.8,886.53 298.1,886.71 306.4,886.89 C314.7,887.07 323,887.63 331.3,887.98 C337.11,888.23 342.92,888.47 348.73,888.71" fill="none" stroke="#e2323f" stroke-width="1.3" stroke-linejoin="round" stroke-linecap="round"/>
<path d="M215.1,890.9 C220.63,890.78 226.17,890.65 231.7,890.54 C238.34,890.4 244.98,890.47 251.62,890.17 C252.73,890.12 253.83,889.52 254.94,888.71 C256.05,887.91 257.15,884.29 258.26,881.79 C259.39,879.23 260.53,875.47 261.66,873.4 C263.88,869.38 266.09,865.81 268.3,864.29 C271.65,862 275,860.32 278.35,859.92 C283.91,859.24 289.47,858.82 295.03,858.82 C301.59,858.82 308.14,858.82 314.7,858.82 C326.04,858.82 337.39,858.82 348.73,858.82" fill="none" stroke="#e8a23a" stroke-width="1.45" stroke-linejoin="round" stroke-linecap="round"/>
<path d="M380.8,720.22 C383.57,720.22 386.33,720.22 389.1,720.22 C391.87,720.22 394.63,719.68 397.4,719.68 C400.17,719.68 402.93,720.22 405.7,720.22 C412.34,720.22 418.98,720.22 425.62,720.22 C426.31,720.22 427,718.17 427.69,715.89 C429.22,710.88 430.74,671.48 432.26,656.42 C433.37,645.46 434.47,632.07 435.58,629.38 C436.16,627.97 436.74,626.68 437.32,626.68 C437.99,626.68 438.65,631.72 439.31,634.79 C440.34,639.51 441.36,646 442.39,651.55 C443.96,660.09 445.54,669.66 447.12,676.96 C448.67,684.14 450.22,691.16 451.76,695.89 C453.31,700.62 454.86,704.97 456.41,707.24 C458.74,710.65 461.06,713.18 463.38,714.27 C465.74,715.38 468.09,715.95 470.44,716.43 C472.79,716.91 475.14,716.98 477.5,717.52 C480.21,718.13 482.92,720.69 485.63,721.3 C488.04,721.84 490.44,722.08 492.85,722.38 C496.25,722.81 499.66,723.46 503.06,723.46 C506.96,723.46 510.86,723.1 514.76,722.92" fill="none" stroke="#285a30" stroke-width="1.5" stroke-linejoin="round" stroke-linecap="round"/>
<path d="M380.8,721.3 C396.29,721.3 411.79,721.3 427.28,721.3 C428.66,721.3 430.05,718.22 431.43,717.52 C432.98,716.73 434.53,715.89 436.08,715.89 C437.85,715.89 439.62,716.99 441.39,717.52 C443.88,718.26 446.37,719.37 448.86,719.68 C453.84,720.3 458.82,720.65 463.8,720.76 C480.79,721.12 497.77,721.12 514.76,721.3" fill="none" stroke="#e2323f" stroke-width="1.3" stroke-linejoin="round" stroke-linecap="round"/>
<path d="M380.8,721.3 C396.15,721.3 411.51,721.3 426.86,721.3 C427.56,721.3 428.25,718.18 428.94,715.89 C430.32,711.33 431.71,699.7 433.09,695.35 C434.5,690.91 435.91,685.61 437.32,685.61 C438.4,685.61 439.48,691.72 440.56,694.26 C441.94,697.52 443.33,700.29 444.71,702.92 C446.37,706.07 448.03,709.49 449.69,711.57 C451.16,713.4 452.62,715.11 454.09,715.89 C457.33,717.61 460.56,718.76 463.8,719.14 C469.33,719.78 474.87,719.97 480.4,720.22 C491.85,720.73 503.31,720.94 514.76,721.3" fill="none" stroke="#e8a23a" stroke-width="1.45" stroke-linejoin="round" stroke-linecap="round"/>
<path d="M380.8,892.36 C386.33,891.99 391.87,891.63 397.4,891.26 C402.93,890.9 408.47,890.5 414,890.17 C418.43,889.91 422.85,890.04 427.28,889.44 C427.83,889.37 428.39,888.74 428.94,887.98 C430.05,886.47 431.15,878.59 432.26,872.67 C433.37,866.76 434.47,859.33 435.58,851.53 C436.88,842.37 438.18,828.39 439.48,820.55 C440.78,812.71 442.08,806.15 443.38,801.6 C444.96,796.08 446.54,791.76 448.11,788.84 C450.71,784.02 453.31,780.56 455.91,778.27 C459.57,775.06 463.22,772.91 466.87,771.34 C471.05,769.56 475.23,768.14 479.4,767.33 C481.95,766.85 484.49,766.24 487.04,766.24 C491.47,766.24 495.89,767.17 500.32,767.7 C505.02,768.26 509.73,768.91 514.43,769.52" fill="none" stroke="#285a30" stroke-width="1.5" stroke-linejoin="round" stroke-linecap="round"/>
<path d="M380.8,890.9 C391.87,890.9 402.93,890.9 414,890.9 C418.98,890.9 423.96,891.63 428.94,891.63 C430.6,891.63 432.26,890.17 433.92,889.44 C436.13,888.47 438.35,886.91 440.56,886.53 C442.77,886.14 444.99,885.8 447.2,885.8 C452.73,885.8 458.27,885.8 463.8,885.8 C472.1,885.8 480.4,886.29 488.7,886.53 C497.28,886.77 505.85,887.01 514.43,887.25" fill="none" stroke="#e2323f" stroke-width="1.3" stroke-linejoin="round" stroke-linecap="round"/>
<path d="M380.8,890.9 C389.1,890.9 397.4,890.9 405.7,890.9 C413.17,890.9 420.64,890.72 428.11,890.17 C429.3,890.08 430.49,889.71 431.68,889.08 C432.7,888.53 433.73,885.6 434.75,883.61 C436.11,880.98 437.46,878.11 438.82,874.86 C440.34,871.22 441.86,865.39 443.38,862.47 C445.48,858.44 447.59,855.15 449.69,853.36 C452.82,850.69 455.94,848.83 459.07,847.89 C462.03,846.99 464.99,846.54 467.95,846.07 C471.77,845.46 475.59,844.98 479.4,844.61 C482.5,844.31 485.6,843.88 488.7,843.88 C492.85,843.88 497,844.45 501.15,844.61 C505.58,844.77 510,844.85 514.43,844.97" fill="none" stroke="#e8a23a" stroke-width="1.45" stroke-linejoin="round" stroke-linecap="round"/>
<path d="M546.5,720.76 C548.71,720.4 550.93,719.68 553.14,719.68 C555.35,719.68 557.57,720.49 559.78,720.76 C563.65,721.23 567.53,721.84 571.4,721.84 C578.04,721.84 584.68,721.76 591.32,720.76 C591.74,720.7 592.15,718.13 592.56,715.89 C593.95,708.45 595.33,681.47 596.72,667.23 C597.41,660.11 598.1,651.14 598.79,647.76 C599.21,645.74 599.62,643.44 600.04,643.44 C601,643.44 601.97,643.44 602.94,643.44 C603.36,643.44 603.77,646.75 604.19,648.85 C604.74,651.65 605.29,655.67 605.85,659.12 C606.59,663.77 607.34,669.4 608.09,673.18 C609.97,682.7 611.85,690.57 613.73,695.89 C616,702.3 618.27,707.83 620.54,710.49 C622.78,713.11 625.02,715.03 627.26,715.89 C629.39,716.71 631.52,717.07 633.65,717.52 C635.7,717.94 637.74,718.6 639.79,718.6 C640.23,718.6 640.68,715.91 641.12,714.81 C641.78,713.16 642.45,710.49 643.11,710.49 C644.11,710.49 645.1,711.53 646.1,712.11 C648.12,713.27 650.14,715.16 652.16,715.89 C654.29,716.66 656.42,717.27 658.55,717.52 C660.96,717.8 663.36,717.78 665.77,718.06 C668.07,718.32 670.36,719.24 672.66,719.68 C674.87,720.1 677.09,720.4 679.3,720.76" fill="none" stroke="#285a30" stroke-width="1.5" stroke-linejoin="round" stroke-linecap="round"/>
<path d="M546.5,721.3 C561.72,721.3 576.93,721.3 592.15,721.3 C593.53,721.3 594.92,717.04 596.3,715.89 C597.79,714.66 599.29,713.19 600.78,713.19 C602.33,713.19 603.88,714.57 605.43,715.35 C607.37,716.33 609.3,718.04 611.24,718.6 C614.17,719.44 617.11,720.22 620.04,720.22 C639.79,720.22 659.55,720.22 679.3,720.22" fill="none" stroke="#e2323f" stroke-width="1.3" stroke-linejoin="round" stroke-linecap="round"/>
<path d="M546.5,721.3 C561.58,721.3 576.66,721.3 591.74,721.3 C592.43,721.3 593.12,718.33 593.81,715.89 C595.19,711.03 596.58,696.18 597.96,689.94 C599.07,684.95 600.17,678.04 601.28,678.04 C602.25,678.04 603.22,681.36 604.19,683.45 C605.49,686.26 606.79,690.73 608.09,693.72 C610.71,699.78 613.34,706.67 615.97,709.4 C619.1,712.66 622.22,714.88 625.35,715.89 C629.78,717.33 634.2,718.6 638.63,718.6 C640.12,718.6 641.62,715.89 643.11,715.89 C644.66,715.89 646.21,717.23 647.76,717.52 C652.74,718.42 657.72,718.89 662.7,719.14 C668.23,719.42 673.77,719.5 679.3,719.68" fill="none" stroke="#e8a23a" stroke-width="1.45" stroke-linejoin="round" stroke-linecap="round"/>
<path d="M546.5,890.9 C549.27,890.41 552.03,889.77 554.8,889.44 C557.57,889.12 560.33,888.71 563.1,888.71 C568.63,888.71 574.17,889.08 579.7,889.08 C584.13,889.08 588.55,889.03 592.98,888.71 C593.53,888.67 594.09,887.64 594.64,886.53 C595.8,884.18 596.96,871.63 598.13,864.66 C599.56,856.02 601,846.96 602.44,839.87 C603.91,832.65 605.37,825.66 606.84,820.92 C608.75,814.74 610.66,809.66 612.57,806.34 C615,802.1 617.44,799.03 619.87,796.86 C622.78,794.27 625.68,792.2 628.59,791.03 C631.99,789.65 635.39,789.29 638.8,788.11 C639.99,787.7 641.18,787.27 642.37,786.65 C643.25,786.19 644.14,785.43 645.02,784.83 C647.04,783.47 649.06,781.82 651.08,780.82 C654.95,778.91 658.83,777.23 662.7,776.45 C668.23,775.34 673.77,774.99 679.3,774.26" fill="none" stroke="#285a30" stroke-width="1.5" stroke-linejoin="round" stroke-linecap="round"/>
<path d="M546.5,890.9 C560.33,890.9 574.17,890.9 588,890.9 C589.38,890.9 590.77,891.63 592.15,891.63 C594.09,891.63 596.02,890.83 597.96,890.17 C600.92,889.16 603.88,886.46 606.84,885.07 C609.25,883.93 611.65,882.38 614.06,882.15 C619.21,881.67 624.35,881.61 629.5,881.42 C637.8,881.12 646.1,880.86 654.4,880.69 C662.7,880.53 671,880.45 679.3,880.33" fill="none" stroke="#e2323f" stroke-width="1.3" stroke-linejoin="round" stroke-linecap="round"/>
<path d="M546.5,890.9 C554.8,890.66 563.1,890.35 571.4,890.17 C578.59,890.02 585.79,890.12 592.98,889.81 C593.73,889.77 594.47,889.34 595.22,888.71 C596.13,887.94 597.05,881.89 597.96,878.14 C598.98,873.94 600.01,868.02 601.03,864.66 C602.97,858.29 604.9,853.28 606.84,850.08 C609.25,846.09 611.65,843.25 614.06,841.33 C617.44,838.64 620.81,836.7 624.19,835.5 C629.06,833.76 633.93,833.3 638.8,831.85 C640.87,831.23 642.95,830.37 645.02,829.66 C649.53,828.14 654.04,826.03 658.55,825.29 C665.47,824.15 672.38,823.83 679.3,823.1" fill="none" stroke="#e8a23a" stroke-width="1.45" stroke-linejoin="round" stroke-linecap="round"/>
<path d="M50.1,546.8 L99,546.8 L99,499.06 L107.4,499.06 L107.4,546.8 L188.4,546.8 L188.4,499.06 L205.1,499.06 L205.1,546.8 L253.3,546.8 L253.3,499.06 L261.5,499.06 L261.5,546.8 L354.8,546.8 L354.8,499.06 L371.5,499.06 L371.5,546.8 L428.2,546.8 L428.2,499.06 L435.8,499.06 L435.8,546.8 L468,546.8" fill="none" stroke="#48a1d8" stroke-width="1.3" stroke-linejoin="round" stroke-linecap="round" stroke-linejoin="miter" stroke-linecap="butt"/>
<path d="M472.3,546.8 L523.5,546.8 L523.5,499.06 L539.6,499.06 L539.6,546.8 L593.3,546.8 L593.3,499.06 L601.3,499.06 L601.3,546.8 L678.9,546.8" fill="none" stroke="#48a1d8" stroke-width="1.3" stroke-linejoin="round" stroke-linecap="round" stroke-linejoin="miter" stroke-linecap="butt"/>
<rect x="193.75" y="497.56" width="6" height="3" fill="#fff"/>
<line x1="190.55" y1="502.66" x2="197.75" y2="495.46" stroke="#48a1d8" stroke-width="0.9"/>
<line x1="195.75" y1="502.66" x2="202.95" y2="495.46" stroke="#48a1d8" stroke-width="0.9"/>
<rect x="360.15" y="497.56" width="6" height="3" fill="#fff"/>
<line x1="356.95" y1="502.66" x2="364.15" y2="495.46" stroke="#48a1d8" stroke-width="0.9"/>
<line x1="362.15" y1="502.66" x2="369.35" y2="495.46" stroke="#48a1d8" stroke-width="0.9"/>
<rect x="528.55" y="497.56" width="6" height="3" fill="#fff"/>
<line x1="525.35" y1="502.66" x2="532.55" y2="495.46" stroke="#48a1d8" stroke-width="0.9"/>
<line x1="530.55" y1="502.66" x2="537.75" y2="495.46" stroke="#48a1d8" stroke-width="0.9"/>
<line x1="49.5" y1="475" x2="679.5" y2="475" stroke="#4a4a4a" stroke-width="1.05"/>
<line x1="49.5" y1="474.4" x2="49.5" y2="895.6" stroke="#4a4a4a" stroke-width="1.05"/>
<line x1="679.5" y1="474.4" x2="679.5" y2="895.6" stroke="#4a4a4a" stroke-width="1.05"/>
<line x1="49.5" y1="559" x2="194.2" y2="559" stroke="#4a4a4a" stroke-width="1.05"/>
<line x1="201" y1="559" x2="360.8" y2="559" stroke="#4a4a4a" stroke-width="1.05"/>
<line x1="367.6" y1="559" x2="527.8" y2="559" stroke="#4a4a4a" stroke-width="1.05"/>
<line x1="534.6" y1="559" x2="679.5" y2="559" stroke="#4a4a4a" stroke-width="1.05"/>
<line x1="191.7" y1="561.8" x2="198.5" y2="556.2" stroke="#3a3a3a" stroke-width="0.9"/>
<line x1="196.7" y1="561.8" x2="203.5" y2="556.2" stroke="#3a3a3a" stroke-width="0.9"/>
<line x1="358.3" y1="561.8" x2="365.1" y2="556.2" stroke="#3a3a3a" stroke-width="0.9"/>
<line x1="363.3" y1="561.8" x2="370.1" y2="556.2" stroke="#3a3a3a" stroke-width="0.9"/>
<line x1="525.3" y1="561.8" x2="532.1" y2="556.2" stroke="#3a3a3a" stroke-width="0.9"/>
<line x1="530.3" y1="561.8" x2="537.1" y2="556.2" stroke="#3a3a3a" stroke-width="0.9"/>
<line x1="49.5" y1="727" x2="194.2" y2="727" stroke="#4a4a4a" stroke-width="1.05"/>
<line x1="201" y1="727" x2="360.8" y2="727" stroke="#4a4a4a" stroke-width="1.05"/>
<line x1="367.6" y1="727" x2="527.8" y2="727" stroke="#4a4a4a" stroke-width="1.05"/>
<line x1="534.6" y1="727" x2="679.5" y2="727" stroke="#4a4a4a" stroke-width="1.05"/>
<line x1="191.7" y1="729.8" x2="198.5" y2="724.2" stroke="#3a3a3a" stroke-width="0.9"/>
<line x1="196.7" y1="729.8" x2="203.5" y2="724.2" stroke="#3a3a3a" stroke-width="0.9"/>
<line x1="358.3" y1="729.8" x2="365.1" y2="724.2" stroke="#3a3a3a" stroke-width="0.9"/>
<line x1="363.3" y1="729.8" x2="370.1" y2="724.2" stroke="#3a3a3a" stroke-width="0.9"/>
<line x1="525.3" y1="729.8" x2="532.1" y2="724.2" stroke="#3a3a3a" stroke-width="0.9"/>
<line x1="530.3" y1="729.8" x2="537.1" y2="724.2" stroke="#3a3a3a" stroke-width="0.9"/>
<line x1="49.5" y1="895" x2="194.2" y2="895" stroke="#4a4a4a" stroke-width="1.05"/>
<line x1="201" y1="895" x2="360.8" y2="895" stroke="#4a4a4a" stroke-width="1.05"/>
<line x1="367.6" y1="895" x2="527.8" y2="895" stroke="#4a4a4a" stroke-width="1.05"/>
<line x1="534.6" y1="895" x2="679.5" y2="895" stroke="#4a4a4a" stroke-width="1.05"/>
<line x1="191.7" y1="897.8" x2="198.5" y2="892.2" stroke="#3a3a3a" stroke-width="0.9"/>
<line x1="196.7" y1="897.8" x2="203.5" y2="892.2" stroke="#3a3a3a" stroke-width="0.9"/>
<line x1="358.3" y1="897.8" x2="365.1" y2="892.2" stroke="#3a3a3a" stroke-width="0.9"/>
<line x1="363.3" y1="897.8" x2="370.1" y2="892.2" stroke="#3a3a3a" stroke-width="0.9"/>
<line x1="525.3" y1="897.8" x2="532.1" y2="892.2" stroke="#3a3a3a" stroke-width="0.9"/>
<line x1="530.3" y1="897.8" x2="537.1" y2="892.2" stroke="#3a3a3a" stroke-width="0.9"/>
<line x1="44.5" y1="546.5" x2="49.5" y2="546.5" stroke="#3a3a3a" stroke-width="1"/>
<text x="0" y="0" font-size="10.4" fill="#1a1a1a" stroke="#1a1a1a" stroke-width="0.2" text-anchor="end" transform="translate(40.6 551) scale(0.92 1)"><tspan>0</tspan></text>
<line x1="44.5" y1="522.5" x2="49.5" y2="522.5" stroke="#3a3a3a" stroke-width="1"/>
<text x="0" y="0" font-size="10.4" fill="#1a1a1a" stroke="#1a1a1a" stroke-width="0.2" text-anchor="end" transform="translate(40.6 527.13) scale(0.92 1)"><tspan>0.1</tspan></text>
<line x1="44.5" y1="499.5" x2="49.5" y2="499.5" stroke="#3a3a3a" stroke-width="1"/>
<text x="0" y="0" font-size="10.4" fill="#1a1a1a" stroke="#1a1a1a" stroke-width="0.2" text-anchor="end" transform="translate(40.6 503.26) scale(0.92 1)"><tspan>0.2</tspan></text>
<line x1="44.5" y1="475.5" x2="49.5" y2="475.5" stroke="#3a3a3a" stroke-width="1"/>
<text x="0" y="0" font-size="10.4" fill="#1a1a1a" stroke="#1a1a1a" stroke-width="0.2" text-anchor="end" transform="translate(40.6 479.39) scale(0.92 1)"><tspan>0.3</tspan></text>
<line x1="44.5" y1="721.5" x2="49.5" y2="721.5" stroke="#3a3a3a" stroke-width="1"/>
<text x="0" y="0" font-size="10.4" fill="#1a1a1a" stroke="#1a1a1a" stroke-width="0.2" text-anchor="end" transform="translate(40.6 725.5) scale(0.92 1)"><tspan>0</tspan></text>
<line x1="46.9" y1="694.5" x2="49.5" y2="694.5" stroke="#3a3a3a" stroke-width="1"/>
<line x1="44.5" y1="667.5" x2="49.5" y2="667.5" stroke="#3a3a3a" stroke-width="1"/>
<text x="0" y="0" font-size="10.4" fill="#1a1a1a" stroke="#1a1a1a" stroke-width="0.2" text-anchor="end" transform="translate(40.6 671.43) scale(0.92 1)"><tspan>1</tspan></text>
<line x1="46.9" y1="640.5" x2="49.5" y2="640.5" stroke="#3a3a3a" stroke-width="1"/>
<line x1="44.5" y1="613.5" x2="49.5" y2="613.5" stroke="#3a3a3a" stroke-width="1"/>
<text x="0" y="0" font-size="10.4" fill="#1a1a1a" stroke="#1a1a1a" stroke-width="0.2" text-anchor="end" transform="translate(40.6 617.36) scale(0.92 1)"><tspan>2</tspan></text>
<line x1="46.9" y1="586.5" x2="49.5" y2="586.5" stroke="#3a3a3a" stroke-width="1"/>
<line x1="44.5" y1="559.5" x2="49.5" y2="559.5" stroke="#3a3a3a" stroke-width="1"/>
<text x="0" y="0" font-size="10.4" fill="#1a1a1a" stroke="#1a1a1a" stroke-width="0.2" text-anchor="end" transform="translate(40.6 563.29) scale(0.92 1)"><tspan>3</tspan></text>
<line x1="44.5" y1="890.5" x2="49.5" y2="890.5" stroke="#3a3a3a" stroke-width="1"/>
<text x="0" y="0" font-size="10.4" fill="#1a1a1a" stroke="#1a1a1a" stroke-width="0.2" text-anchor="end" transform="translate(40.6 895.1) scale(0.92 1)"><tspan>0</tspan></text>
<line x1="46.9" y1="872.5" x2="49.5" y2="872.5" stroke="#3a3a3a" stroke-width="1"/>
<line x1="44.5" y1="854.5" x2="49.5" y2="854.5" stroke="#3a3a3a" stroke-width="1"/>
<text x="0" y="0" font-size="10.4" fill="#1a1a1a" stroke="#1a1a1a" stroke-width="0.2" text-anchor="end" transform="translate(40.6 858.65) scale(0.92 1)"><tspan>1</tspan></text>
<line x1="46.9" y1="836.5" x2="49.5" y2="836.5" stroke="#3a3a3a" stroke-width="1"/>
<line x1="44.5" y1="818.5" x2="49.5" y2="818.5" stroke="#3a3a3a" stroke-width="1"/>
<text x="0" y="0" font-size="10.4" fill="#1a1a1a" stroke="#1a1a1a" stroke-width="0.2" text-anchor="end" transform="translate(40.6 822.2) scale(0.92 1)"><tspan>2</tspan></text>
<line x1="46.9" y1="799.5" x2="49.5" y2="799.5" stroke="#3a3a3a" stroke-width="1"/>
<line x1="44.5" y1="781.5" x2="49.5" y2="781.5" stroke="#3a3a3a" stroke-width="1"/>
<text x="0" y="0" font-size="10.4" fill="#1a1a1a" stroke="#1a1a1a" stroke-width="0.2" text-anchor="end" transform="translate(40.6 785.75) scale(0.92 1)"><tspan>3</tspan></text>
<line x1="46.9" y1="763.5" x2="49.5" y2="763.5" stroke="#3a3a3a" stroke-width="1"/>
<line x1="44.5" y1="745.5" x2="49.5" y2="745.5" stroke="#3a3a3a" stroke-width="1"/>
<text x="0" y="0" font-size="10.4" fill="#1a1a1a" stroke="#1a1a1a" stroke-width="0.2" text-anchor="end" transform="translate(40.6 749.3) scale(0.92 1)"><tspan>4</tspan></text>
<line x1="46.9" y1="726.5" x2="49.5" y2="726.5" stroke="#3a3a3a" stroke-width="1"/>
<line x1="49.5" y1="895" x2="49.5" y2="898.6" stroke="#3a3a3a" stroke-width="1"/>
<text x="0" y="0" font-size="10.4" fill="#1a1a1a" stroke="#1a1a1a" stroke-width="0.2" text-anchor="middle" transform="translate(49.4 909.6) scale(0.92 1)"><tspan>0</tspan></text>
<line x1="70.5" y1="559" x2="70.5" y2="560.6" stroke="#3a3a3a" stroke-width="1"/>
<line x1="70.5" y1="727" x2="70.5" y2="728.6" stroke="#3a3a3a" stroke-width="1"/>
<line x1="70.5" y1="895" x2="70.5" y2="897" stroke="#3a3a3a" stroke-width="1"/>
<line x1="90.5" y1="559" x2="90.5" y2="562.3" stroke="#3a3a3a" stroke-width="1"/>
<line x1="90.5" y1="727" x2="90.5" y2="730.3" stroke="#3a3a3a" stroke-width="1"/>
<line x1="90.5" y1="895" x2="90.5" y2="898.6" stroke="#3a3a3a" stroke-width="1"/>
<text x="0" y="0" font-size="10.4" fill="#1a1a1a" stroke="#1a1a1a" stroke-width="0.2" text-anchor="middle" transform="translate(90.9 909.6) scale(0.92 1)"><tspan>5</tspan></text>
<line x1="111.5" y1="559" x2="111.5" y2="560.6" stroke="#3a3a3a" stroke-width="1"/>
<line x1="111.5" y1="727" x2="111.5" y2="728.6" stroke="#3a3a3a" stroke-width="1"/>
<line x1="111.5" y1="895" x2="111.5" y2="897" stroke="#3a3a3a" stroke-width="1"/>
<line x1="132.5" y1="559" x2="132.5" y2="562.3" stroke="#3a3a3a" stroke-width="1"/>
<line x1="132.5" y1="727" x2="132.5" y2="730.3" stroke="#3a3a3a" stroke-width="1"/>
<line x1="132.5" y1="895" x2="132.5" y2="898.6" stroke="#3a3a3a" stroke-width="1"/>
<text x="0" y="0" font-size="10.4" fill="#1a1a1a" stroke="#1a1a1a" stroke-width="0.2" text-anchor="middle" transform="translate(132.4 909.6) scale(0.92 1)"><tspan>10</tspan></text>
<line x1="153.5" y1="559" x2="153.5" y2="560.6" stroke="#3a3a3a" stroke-width="1"/>
<line x1="153.5" y1="727" x2="153.5" y2="728.6" stroke="#3a3a3a" stroke-width="1"/>
<line x1="153.5" y1="895" x2="153.5" y2="897" stroke="#3a3a3a" stroke-width="1"/>
<line x1="173.5" y1="559" x2="173.5" y2="562.3" stroke="#3a3a3a" stroke-width="1"/>
<line x1="173.5" y1="727" x2="173.5" y2="730.3" stroke="#3a3a3a" stroke-width="1"/>
<line x1="173.5" y1="895" x2="173.5" y2="898.6" stroke="#3a3a3a" stroke-width="1"/>
<text x="0" y="0" font-size="10.4" fill="#1a1a1a" stroke="#1a1a1a" stroke-width="0.2" text-anchor="middle" transform="translate(173.9 909.6) scale(0.92 1)"><tspan>15</tspan></text>
<line x1="215.5" y1="559" x2="215.5" y2="562.3" stroke="#3a3a3a" stroke-width="1"/>
<line x1="215.5" y1="727" x2="215.5" y2="730.3" stroke="#3a3a3a" stroke-width="1"/>
<line x1="215.5" y1="895" x2="215.5" y2="898.6" stroke="#3a3a3a" stroke-width="1"/>
<text x="0" y="0" font-size="10.4" fill="#1a1a1a" stroke="#1a1a1a" stroke-width="0.2" text-anchor="middle" transform="translate(215.1 909.6) scale(0.92 1)"><tspan>30</tspan></text>
<line x1="235.5" y1="559" x2="235.5" y2="560.6" stroke="#3a3a3a" stroke-width="1"/>
<line x1="235.5" y1="727" x2="235.5" y2="728.6" stroke="#3a3a3a" stroke-width="1"/>
<line x1="235.5" y1="895" x2="235.5" y2="897" stroke="#3a3a3a" stroke-width="1"/>
<line x1="256.5" y1="559" x2="256.5" y2="562.3" stroke="#3a3a3a" stroke-width="1"/>
<line x1="256.5" y1="727" x2="256.5" y2="730.3" stroke="#3a3a3a" stroke-width="1"/>
<line x1="256.5" y1="895" x2="256.5" y2="898.6" stroke="#3a3a3a" stroke-width="1"/>
<text x="0" y="0" font-size="10.4" fill="#1a1a1a" stroke="#1a1a1a" stroke-width="0.2" text-anchor="middle" transform="translate(256.6 909.6) scale(0.92 1)"><tspan>35</tspan></text>
<line x1="277.5" y1="559" x2="277.5" y2="560.6" stroke="#3a3a3a" stroke-width="1"/>
<line x1="277.5" y1="727" x2="277.5" y2="728.6" stroke="#3a3a3a" stroke-width="1"/>
<line x1="277.5" y1="895" x2="277.5" y2="897" stroke="#3a3a3a" stroke-width="1"/>
<line x1="298.5" y1="559" x2="298.5" y2="562.3" stroke="#3a3a3a" stroke-width="1"/>
<line x1="298.5" y1="727" x2="298.5" y2="730.3" stroke="#3a3a3a" stroke-width="1"/>
<line x1="298.5" y1="895" x2="298.5" y2="898.6" stroke="#3a3a3a" stroke-width="1"/>
<text x="0" y="0" font-size="10.4" fill="#1a1a1a" stroke="#1a1a1a" stroke-width="0.2" text-anchor="middle" transform="translate(298.1 909.6) scale(0.92 1)"><tspan>40</tspan></text>
<line x1="318.5" y1="559" x2="318.5" y2="560.6" stroke="#3a3a3a" stroke-width="1"/>
<line x1="318.5" y1="727" x2="318.5" y2="728.6" stroke="#3a3a3a" stroke-width="1"/>
<line x1="318.5" y1="895" x2="318.5" y2="897" stroke="#3a3a3a" stroke-width="1"/>
<line x1="339.5" y1="559" x2="339.5" y2="562.3" stroke="#3a3a3a" stroke-width="1"/>
<line x1="339.5" y1="727" x2="339.5" y2="730.3" stroke="#3a3a3a" stroke-width="1"/>
<line x1="339.5" y1="895" x2="339.5" y2="898.6" stroke="#3a3a3a" stroke-width="1"/>
<text x="0" y="0" font-size="10.4" fill="#1a1a1a" stroke="#1a1a1a" stroke-width="0.2" text-anchor="middle" transform="translate(339.6 909.6) scale(0.92 1)"><tspan>45</tspan></text>
<line x1="380.5" y1="559" x2="380.5" y2="562.3" stroke="#3a3a3a" stroke-width="1"/>
<line x1="380.5" y1="727" x2="380.5" y2="730.3" stroke="#3a3a3a" stroke-width="1"/>
<line x1="380.5" y1="895" x2="380.5" y2="898.6" stroke="#3a3a3a" stroke-width="1"/>
<text x="0" y="0" font-size="10.4" fill="#1a1a1a" stroke="#1a1a1a" stroke-width="0.2" text-anchor="middle" transform="translate(380.8 909.6) scale(0.92 1)"><tspan>60</tspan></text>
<line x1="401.5" y1="559" x2="401.5" y2="560.6" stroke="#3a3a3a" stroke-width="1"/>
<line x1="401.5" y1="727" x2="401.5" y2="728.6" stroke="#3a3a3a" stroke-width="1"/>
<line x1="401.5" y1="895" x2="401.5" y2="897" stroke="#3a3a3a" stroke-width="1"/>
<line x1="422.5" y1="559" x2="422.5" y2="562.3" stroke="#3a3a3a" stroke-width="1"/>
<line x1="422.5" y1="727" x2="422.5" y2="730.3" stroke="#3a3a3a" stroke-width="1"/>
<line x1="422.5" y1="895" x2="422.5" y2="898.6" stroke="#3a3a3a" stroke-width="1"/>
<text x="0" y="0" font-size="10.4" fill="#1a1a1a" stroke="#1a1a1a" stroke-width="0.2" text-anchor="middle" transform="translate(422.3 909.6) scale(0.92 1)"><tspan>65</tspan></text>
<line x1="443.5" y1="559" x2="443.5" y2="560.6" stroke="#3a3a3a" stroke-width="1"/>
<line x1="443.5" y1="727" x2="443.5" y2="728.6" stroke="#3a3a3a" stroke-width="1"/>
<line x1="443.5" y1="895" x2="443.5" y2="897" stroke="#3a3a3a" stroke-width="1"/>
<line x1="463.5" y1="559" x2="463.5" y2="562.3" stroke="#3a3a3a" stroke-width="1"/>
<line x1="463.5" y1="727" x2="463.5" y2="730.3" stroke="#3a3a3a" stroke-width="1"/>
<line x1="463.5" y1="895" x2="463.5" y2="898.6" stroke="#3a3a3a" stroke-width="1"/>
<text x="0" y="0" font-size="10.4" fill="#1a1a1a" stroke="#1a1a1a" stroke-width="0.2" text-anchor="middle" transform="translate(463.8 909.6) scale(0.92 1)"><tspan>70</tspan></text>
<line x1="484.5" y1="559" x2="484.5" y2="560.6" stroke="#3a3a3a" stroke-width="1"/>
<line x1="484.5" y1="727" x2="484.5" y2="728.6" stroke="#3a3a3a" stroke-width="1"/>
<line x1="484.5" y1="895" x2="484.5" y2="897" stroke="#3a3a3a" stroke-width="1"/>
<line x1="505.5" y1="559" x2="505.5" y2="562.3" stroke="#3a3a3a" stroke-width="1"/>
<line x1="505.5" y1="727" x2="505.5" y2="730.3" stroke="#3a3a3a" stroke-width="1"/>
<line x1="505.5" y1="895" x2="505.5" y2="898.6" stroke="#3a3a3a" stroke-width="1"/>
<text x="0" y="0" font-size="10.4" fill="#1a1a1a" stroke="#1a1a1a" stroke-width="0.2" text-anchor="middle" transform="translate(505.3 909.6) scale(0.92 1)"><tspan>75</tspan></text>
<line x1="546.5" y1="559" x2="546.5" y2="562.3" stroke="#3a3a3a" stroke-width="1"/>
<line x1="546.5" y1="727" x2="546.5" y2="730.3" stroke="#3a3a3a" stroke-width="1"/>
<line x1="546.5" y1="895" x2="546.5" y2="898.6" stroke="#3a3a3a" stroke-width="1"/>
<text x="0" y="0" font-size="10.4" fill="#1a1a1a" stroke="#1a1a1a" stroke-width="0.2" text-anchor="middle" transform="translate(546.5 909.6) scale(0.92 1)"><tspan>90</tspan></text>
<line x1="567.5" y1="559" x2="567.5" y2="560.6" stroke="#3a3a3a" stroke-width="1"/>
<line x1="567.5" y1="727" x2="567.5" y2="728.6" stroke="#3a3a3a" stroke-width="1"/>
<line x1="567.5" y1="895" x2="567.5" y2="897" stroke="#3a3a3a" stroke-width="1"/>
<line x1="588.5" y1="559" x2="588.5" y2="562.3" stroke="#3a3a3a" stroke-width="1"/>
<line x1="588.5" y1="727" x2="588.5" y2="730.3" stroke="#3a3a3a" stroke-width="1"/>
<line x1="588.5" y1="895" x2="588.5" y2="898.6" stroke="#3a3a3a" stroke-width="1"/>
<text x="0" y="0" font-size="10.4" fill="#1a1a1a" stroke="#1a1a1a" stroke-width="0.2" text-anchor="middle" transform="translate(588 909.6) scale(0.92 1)"><tspan>95</tspan></text>
<line x1="608.5" y1="559" x2="608.5" y2="560.6" stroke="#3a3a3a" stroke-width="1"/>
<line x1="608.5" y1="727" x2="608.5" y2="728.6" stroke="#3a3a3a" stroke-width="1"/>
<line x1="608.5" y1="895" x2="608.5" y2="897" stroke="#3a3a3a" stroke-width="1"/>
<line x1="629.5" y1="559" x2="629.5" y2="562.3" stroke="#3a3a3a" stroke-width="1"/>
<line x1="629.5" y1="727" x2="629.5" y2="730.3" stroke="#3a3a3a" stroke-width="1"/>
<line x1="629.5" y1="895" x2="629.5" y2="898.6" stroke="#3a3a3a" stroke-width="1"/>
<text x="0" y="0" font-size="10.4" fill="#1a1a1a" stroke="#1a1a1a" stroke-width="0.2" text-anchor="middle" transform="translate(629.5 909.6) scale(0.92 1)"><tspan>100</tspan></text>
<line x1="650.5" y1="559" x2="650.5" y2="560.6" stroke="#3a3a3a" stroke-width="1"/>
<line x1="650.5" y1="727" x2="650.5" y2="728.6" stroke="#3a3a3a" stroke-width="1"/>
<line x1="650.5" y1="895" x2="650.5" y2="897" stroke="#3a3a3a" stroke-width="1"/>
<line x1="671.5" y1="559" x2="671.5" y2="562.3" stroke="#3a3a3a" stroke-width="1"/>
<line x1="671.5" y1="727" x2="671.5" y2="730.3" stroke="#3a3a3a" stroke-width="1"/>
<line x1="671.5" y1="895" x2="671.5" y2="898.6" stroke="#3a3a3a" stroke-width="1"/>
<text x="0" y="0" font-size="10.4" fill="#1a1a1a" stroke="#1a1a1a" stroke-width="0.2" text-anchor="middle" transform="translate(671 909.6) scale(0.92 1)"><tspan>105</tspan></text>
<text x="363.1" y="926.8" font-size="12.4" fill="#1a1a1a" stroke="#1a1a1a" stroke-width="0.2" text-anchor="middle" textLength="62.6" lengthAdjust="spacingAndGlyphs"><tspan>Time (min)</tspan></text>
<text x="0" y="0" font-size="22.5" fill="#1a1a1a" stroke="#1a1a1a" stroke-width="0.2" transform="translate(1.8 479.3) scale(1 1)"><tspan>c</tspan></text>
<text x="0" y="0" font-size="12.8" fill="#1a1a1a" stroke="#1a1a1a" stroke-width="0.2" text-anchor="middle" transform="translate(14.8 521.2) rotate(-90)" textLength="52.5" lengthAdjust="spacingAndGlyphs"><tspan>j (A cm</tspan><tspan dy="-5.12" font-size="7.68">−2</tspan><tspan dy="5.12">)</tspan></text>
<g transform="translate(14.8 686.9) rotate(-90)" fill="#1a1a1a">
<text x="-0.8" y="0" font-size="15" textLength="8.6" lengthAdjust="spacingAndGlyphs" stroke="#1a1a1a" stroke-width="0.2">n</text>
<circle cx="4.6" cy="-12.9" r="1.45" fill="#1a1a1a"/>
<text x="7.9" y="5.7" font-size="11.6" textLength="8.6" lengthAdjust="spacingAndGlyphs" stroke="#1a1a1a" stroke-width="0.2">O</text>
<text x="17.0" y="4.8" font-size="7.8" stroke="#1a1a1a" stroke-width="0.2">2</text>
<text x="25.2" y="0" font-size="11.8" textLength="72.1" lengthAdjust="spacingAndGlyphs" stroke="#1a1a1a" stroke-width="0.2"><tspan>(μmol min</tspan><tspan dy="-4.48" font-size="7.32">−1</tspan><tspan dy="4.48">)</tspan></text>
</g>
<g transform="translate(14.6 847.9) rotate(-90)" fill="#1a1a1a">
<text x="-0.8" y="0" font-size="15" textLength="8.6" lengthAdjust="spacingAndGlyphs" stroke="#1a1a1a" stroke-width="0.2">n</text>
<text x="7.9" y="5.7" font-size="11.6" textLength="8.6" lengthAdjust="spacingAndGlyphs" stroke="#1a1a1a" stroke-width="0.2">O</text>
<text x="17.0" y="4.8" font-size="7.8" stroke="#1a1a1a" stroke-width="0.2">2</text>
<text x="24.5" y="0" font-size="11.8" textLength="37.9" lengthAdjust="spacingAndGlyphs" stroke="#1a1a1a" stroke-width="0.2"><tspan>(μmol)</tspan></text>
</g>
<text x="105.1" y="492.2" font-size="10.2" fill="#48a1d8" stroke="#48a1d8" stroke-width="0.1" text-anchor="middle" textLength="22.6" lengthAdjust="spacingAndGlyphs"><tspan>1min</tspan></text>
<text x="195.6" y="492.2" font-size="10.2" fill="#48a1d8" stroke="#48a1d8" stroke-width="0.1" text-anchor="middle" textLength="28.1" lengthAdjust="spacingAndGlyphs"><tspan>10min</tspan></text>
<text x="258.4" y="492.2" font-size="10.2" fill="#48a1d8" stroke="#48a1d8" stroke-width="0.1" text-anchor="middle" textLength="22.6" lengthAdjust="spacingAndGlyphs"><tspan>1min</tspan></text>
<text x="363.4" y="492.2" font-size="10.2" fill="#48a1d8" stroke="#48a1d8" stroke-width="0.1" text-anchor="middle" textLength="28.1" lengthAdjust="spacingAndGlyphs"><tspan>10min</tspan></text>
<text x="433.7" y="492.2" font-size="10.2" fill="#48a1d8" stroke="#48a1d8" stroke-width="0.1" text-anchor="middle" textLength="22.6" lengthAdjust="spacingAndGlyphs"><tspan>1min</tspan></text>
<text x="532.4" y="492.2" font-size="10.2" fill="#48a1d8" stroke="#48a1d8" stroke-width="0.1" text-anchor="middle" textLength="28.1" lengthAdjust="spacingAndGlyphs"><tspan>10min</tspan></text>
<text x="595.6" y="492.2" font-size="10.2" fill="#48a1d8" stroke="#48a1d8" stroke-width="0.1" text-anchor="middle" textLength="22.6" lengthAdjust="spacingAndGlyphs"><tspan>1min</tspan></text>
<text x="120.41" y="800.2" font-size="11.5" fill="#1a1a1a" stroke="#1a1a1a" stroke-width="0.2" textLength="77.55" lengthAdjust="spacingAndGlyphs"><tspan dy="-4.6" font-size="6.9">16</tspan><tspan dy="4.6">O</tspan><tspan dy="1.61" font-size="6.9">2</tspan><tspan dy="-1.61">:</tspan><tspan dy="-4.6" font-size="6.9">16</tspan><tspan dy="4.6">O</tspan><tspan dy="-4.6" font-size="6.9">18</tspan><tspan dy="4.6">O:</tspan><tspan dy="-4.6" font-size="6.9">18</tspan><tspan dy="4.6">O</tspan><tspan dy="1.61" font-size="6.9">2</tspan></text>
<text x="120.41" y="815.3" font-size="11.5" fill="#1a1a1a" stroke="#1a1a1a" stroke-width="0.2" textLength="40.75" lengthAdjust="spacingAndGlyphs"><tspan>= 90:9:1</tspan></text>
<text x="306.91" y="815.4" font-size="11.5" fill="#1a1a1a" stroke="#1a1a1a" stroke-width="0.2" textLength="39.05" lengthAdjust="spacingAndGlyphs"><tspan>80:18:2</tspan></text>
<text x="472.11" y="815.3" font-size="11.5" fill="#1a1a1a" stroke="#1a1a1a" stroke-width="0.2" textLength="38.05" lengthAdjust="spacingAndGlyphs"><tspan>70:27:3</tspan></text>
<text x="631.11" y="815" font-size="11.5" fill="#1a1a1a" stroke="#1a1a1a" stroke-width="0.2" textLength="38.55" lengthAdjust="spacingAndGlyphs"><tspan>59:35:4</tspan></text>
<line x1="603.8" y1="586.7" x2="624" y2="586.7" stroke="#285a30" stroke-width="2.3" stroke-linecap="round"/>
<text x="628.99" y="592.2" font-size="13.5" fill="#1a1a1a" textLength="24.75" lengthAdjust="spacingAndGlyphs"><tspan dy="-6.48" font-size="8.1">16</tspan><tspan dy="6.48">O</tspan><tspan dy="2.3" font-size="8.1">2</tspan></text>
<line x1="603.8" y1="606" x2="624" y2="606" stroke="#e8a23a" stroke-width="2.3" stroke-linecap="round"/>
<text x="628.99" y="611.9" font-size="13.5" fill="#1a1a1a" textLength="39.35" lengthAdjust="spacingAndGlyphs"><tspan dy="-6.48" font-size="8.1">16</tspan><tspan dy="6.48">O</tspan><tspan dy="-6.48" font-size="8.1">18</tspan><tspan dy="6.48">O</tspan></text>
<line x1="603.8" y1="625.2" x2="624" y2="625.2" stroke="#e2323f" stroke-width="2.3" stroke-linecap="round"/>
<text x="628.99" y="629.8" font-size="13.5" fill="#1a1a1a" textLength="24.75" lengthAdjust="spacingAndGlyphs"><tspan dy="-6.48" font-size="8.1">18</tspan><tspan dy="6.48">O</tspan><tspan dy="2.3" font-size="8.1">2</tspan></text>
</svg>
</body></html>
